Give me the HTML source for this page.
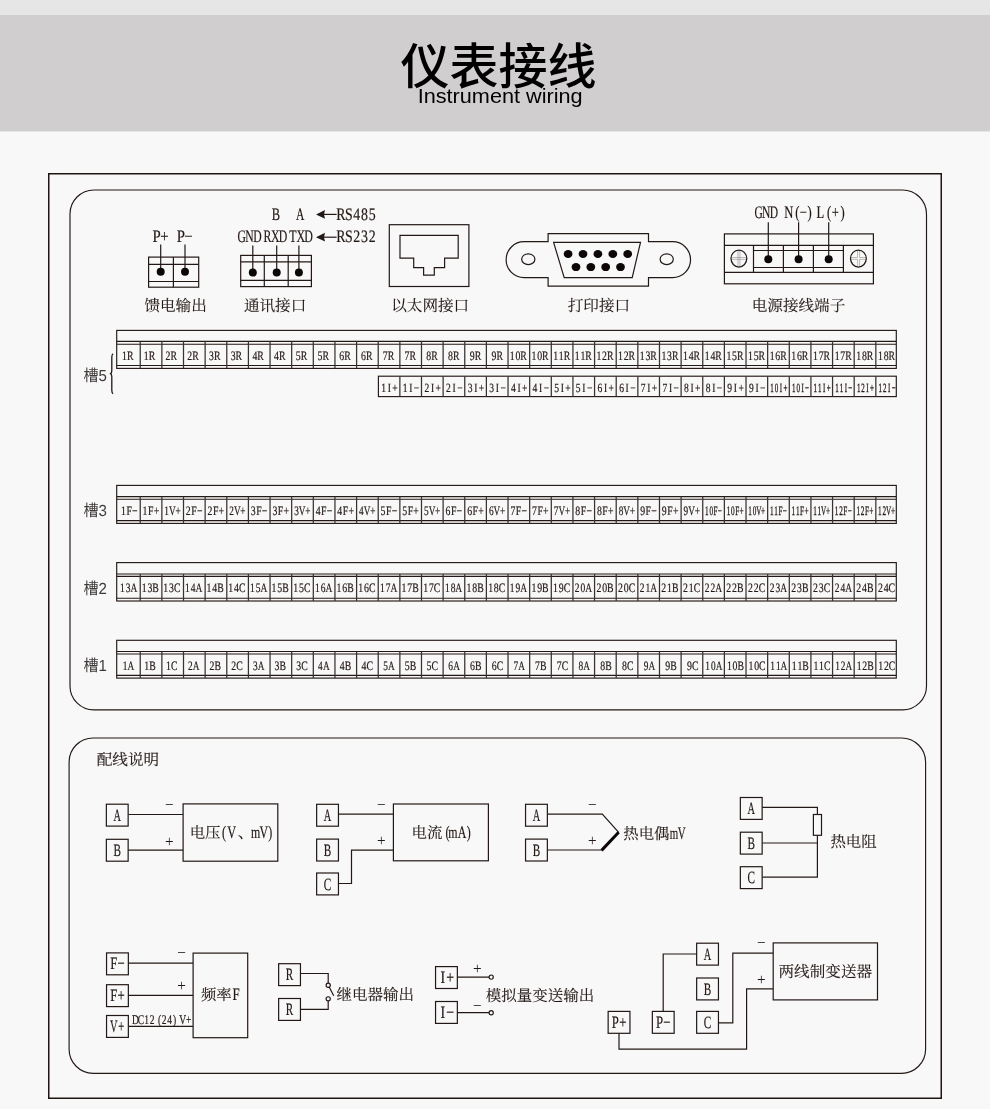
<!DOCTYPE html>
<html lang="zh-CN">
<head>
<meta charset="utf-8">
<meta name="viewport" content="width=990">
<title>仪表接线 Instrument wiring</title>
<style>
html,body{margin:0;padding:0;background:#f8f8f8;}
body{width:990px;height:1109px;overflow:hidden;position:relative;font-family:"Liberation Sans","Noto Sans CJK SC",sans-serif;color:#000;}
.page{position:relative;width:990px;height:1109px;background:#f8f8f8;overflow:hidden;}
.topbar{position:absolute;left:0;top:0;width:990px;height:15px;background:#e6e6e6;}
.banner{position:absolute;left:0;top:15px;width:990px;height:116px;background:#d0cece;border-bottom:1px solid #e6e5e5;will-change:transform;}
.banner h1{position:absolute;left:0;top:28.0px;width:990px;margin:0;padding:0;text-align:center;font-size:49px;line-height:49px;font-weight:500;letter-spacing:0;white-space:nowrap;text-indent:7.2px;}
.banner p{position:absolute;left:0;top:71.0px;width:990px;margin:0;padding:0;text-align:center;font-size:20px;line-height:20px;font-weight:400;white-space:nowrap;}
.banner p span{display:inline-block;transform:scaleX(1.083);transform-origin:50% 50%;margin-left:11px;}
.diagram{position:absolute;left:0;top:0;width:990px;height:1109px;}
.diagram svg{display:block;will-change:transform;}
.diagram text{white-space:pre;text-rendering:geometricPrecision;}
</style>
</head>
<body>
<div class="page">
<div class="topbar"></div>
<header class="banner">
<h1>仪表接线</h1>
<p><span>Instrument wiring</span></p>
</header>
<main class="diagram">
<svg width="990" height="1109" viewBox="0 0 990 1109">
<g id="frames">
<rect x="48.75" y="173.75" width="892.5" height="924.5" fill="none" stroke="#1e1412" stroke-width="1.5"/>
<rect x="70" y="190" width="856.5" height="519.9" rx="24" fill="none" stroke="#231815" stroke-width="1.15"/>
<rect x="69.1" y="738" width="856.5" height="335.3" rx="24" fill="none" stroke="#231815" stroke-width="1.15"/>
</g>
<g id="port-feed-output">
<text transform="scale(0.845,1)" x="185.38 194.5" y="241.7" font-family="'Liberation Serif','Noto Serif CJK SC',serif" font-size="17.5" fill="#231815" stroke="#231815" stroke-width="0.2" text-anchor="middle">P+</text>
<text transform="scale(0.845,1)" x="213.91 223.02" y="241.7" font-family="'Liberation Serif','Noto Serif CJK SC',serif" font-size="17.5" fill="#231815" stroke="#231815" stroke-width="0.2" text-anchor="middle">P−</text>
<rect x="148.6" y="257.1" width="50.1" height="30.1" fill="none" stroke="#231815" stroke-width="1.2"/>
<line x1="148.6" y1="264.3" x2="198.7" y2="264.3" stroke="#231815" stroke-width="1.2"/>
<line x1="148.6" y1="281.5" x2="198.7" y2="281.5" stroke="#231815" stroke-width="1.2"/>
<line x1="173.4" y1="257.1" x2="173.4" y2="287.2" stroke="#231815" stroke-width="1.2"/>
<line x1="160.7" y1="244.5" x2="160.7" y2="271.8" stroke="#231815" stroke-width="1.2"/>
<circle cx="160.7" cy="271.8" r="4" fill="#0c0706" stroke="none" stroke-width="1.0"/>
<line x1="185" y1="244.5" x2="185" y2="271.8" stroke="#231815" stroke-width="1.2"/>
<circle cx="185" cy="271.8" r="4" fill="#0c0706" stroke="none" stroke-width="1.0"/>
<text x="175.6" y="311.3" font-family="'Liberation Serif','Noto Serif CJK SC',serif" font-size="15.6" font-weight="400" fill="#231815" stroke="#231815" stroke-width="0.12" text-anchor="middle">馈电输出</text>
</g>
<g id="port-comm">
<text transform="scale(0.712,1)" x="387.43" y="219.6" font-family="'Liberation Serif','Noto Serif CJK SC',serif" font-size="17.5" fill="#231815" stroke="#231815" stroke-width="0.2" text-anchor="middle">B</text>
<text transform="scale(0.658,1)" x="456.16" y="219.6" font-family="'Liberation Serif','Noto Serif CJK SC',serif" font-size="17.5" fill="#231815" stroke="#231815" stroke-width="0.2" text-anchor="middle">A</text>
<text transform="scale(0.667,1)" x="362.52 374.21 385.91" y="241.6" font-family="'Liberation Serif','Noto Serif CJK SC',serif" font-size="17.5" fill="#231815" stroke="#231815" stroke-width="0.2" text-anchor="middle">GND</text>
<text transform="scale(0.674,1)" x="396.88 408.46 420.03" y="241.6" font-family="'Liberation Serif','Noto Serif CJK SC',serif" font-size="17.5" fill="#231815" stroke="#231815" stroke-width="0.2" text-anchor="middle">RXD</text>
<text transform="scale(0.682,1)" x="429.47 440.91 452.35" y="241.6" font-family="'Liberation Serif','Noto Serif CJK SC',serif" font-size="17.5" fill="#231815" stroke="#231815" stroke-width="0.2" text-anchor="middle">TXD</text>
<rect x="240.7" y="255.4" width="70.7" height="31.2" fill="none" stroke="#231815" stroke-width="1.2"/>
<line x1="240.7" y1="261.9" x2="311.4" y2="261.9" stroke="#231815" stroke-width="1.2"/>
<line x1="240.7" y1="280.4" x2="311.4" y2="280.4" stroke="#231815" stroke-width="1.2"/>
<line x1="264.3" y1="255.4" x2="264.3" y2="286.6" stroke="#231815" stroke-width="1.2"/>
<line x1="288.2" y1="255.4" x2="288.2" y2="286.6" stroke="#231815" stroke-width="1.2"/>
<line x1="252.8" y1="245.5" x2="252.8" y2="272.6" stroke="#231815" stroke-width="1.2"/>
<circle cx="252.8" cy="272.6" r="4" fill="#0c0706" stroke="none" stroke-width="1.0"/>
<line x1="276.7" y1="245.5" x2="276.7" y2="272.6" stroke="#231815" stroke-width="1.2"/>
<circle cx="276.7" cy="272.6" r="4" fill="#0c0706" stroke="none" stroke-width="1.0"/>
<line x1="298.9" y1="245.5" x2="298.9" y2="272.6" stroke="#231815" stroke-width="1.2"/>
<circle cx="298.9" cy="272.6" r="4" fill="#0c0706" stroke="none" stroke-width="1.0"/>
<text x="275.1" y="311.3" font-family="'Liberation Serif','Noto Serif CJK SC',serif" font-size="15.6" font-weight="400" fill="#231815" stroke="#231815" stroke-width="0.12" text-anchor="middle">通讯接口</text>
<line x1="322" y1="214.4" x2="336.6" y2="214.4" stroke="#231815" stroke-width="1.2"/>
<polygon points="316.0,214.4 325.0,210 324.0,214.4 325.0,218.8" fill="#231815"/>
<line x1="322" y1="237.2" x2="336.6" y2="237.2" stroke="#231815" stroke-width="1.2"/>
<polygon points="316.0,237.2 325.0,232.8 324.0,237.2 325.0,241.6" fill="#231815"/>
<text transform="scale(0.792,1)" x="430.46 440.37 450.28 460.2 470.11" y="219.6" font-family="'Liberation Serif','Noto Serif CJK SC',serif" font-size="17.5" fill="#231815" stroke="#231815" stroke-width="0.2" text-anchor="middle">RS485</text>
<text transform="scale(0.792,1)" x="430.46 440.37 450.28 460.2 470.11" y="241.6" font-family="'Liberation Serif','Noto Serif CJK SC',serif" font-size="17.5" fill="#231815" stroke="#231815" stroke-width="0.2" text-anchor="middle">RS232</text>
</g>
<g id="port-ethernet">
<rect x="389.3" y="224.7" width="79.6" height="61.8" fill="none" stroke="#231815" stroke-width="1.2"/>
<path d="M400,235.4H458.2V258.2H444.6V267.7H434.3V275.2H423.6V267.7H413.7V258.2H400Z" fill="none" stroke="#231815" stroke-width="1.2"/>
<text x="430.2" y="311.3" font-family="'Liberation Serif','Noto Serif CJK SC',serif" font-size="15.6" font-weight="400" fill="#231815" stroke="#231815" stroke-width="0.12" text-anchor="middle">以太网接口</text>
</g>
<g id="port-print">
<path d="M548.1,241.7V233.6H648.5V241.7H672.6A17.95,17.95 0 0 1 672.6,277.6H648.5V286.1H548.1V277.6H524.1A17.95,17.95 0 0 1 524.1,241.7Z" fill="none" stroke="#231815" stroke-width="1.2"/>
<path d="M553.6,242.3H640.5L632.2,277.6H564.2Z" fill="none" stroke="#231815" stroke-width="1.2"/>
<ellipse cx="528.3" cy="259.2" rx="6.6" ry="5.4" fill="none" stroke="#231815" stroke-width="1.2"/>
<ellipse cx="666.7" cy="259.2" rx="6.6" ry="5.4" fill="none" stroke="#231815" stroke-width="1.2"/>
<ellipse cx="568.1" cy="254" rx="4.4" ry="4" fill="#0c0706" stroke="none" stroke-width="1.0"/>
<ellipse cx="583" cy="254" rx="4.4" ry="4" fill="#0c0706" stroke="none" stroke-width="1.0"/>
<ellipse cx="597.9" cy="254" rx="4.4" ry="4" fill="#0c0706" stroke="none" stroke-width="1.0"/>
<ellipse cx="612.8" cy="254" rx="4.4" ry="4" fill="#0c0706" stroke="none" stroke-width="1.0"/>
<ellipse cx="627.7" cy="254" rx="4.4" ry="4" fill="#0c0706" stroke="none" stroke-width="1.0"/>
<ellipse cx="576" cy="267.1" rx="4.4" ry="4" fill="#0c0706" stroke="none" stroke-width="1.0"/>
<ellipse cx="590.8" cy="267.1" rx="4.4" ry="4" fill="#0c0706" stroke="none" stroke-width="1.0"/>
<ellipse cx="605.7" cy="267.1" rx="4.4" ry="4" fill="#0c0706" stroke="none" stroke-width="1.0"/>
<ellipse cx="620.5" cy="267.1" rx="4.4" ry="4" fill="#0c0706" stroke="none" stroke-width="1.0"/>
<text x="598.9" y="311.3" font-family="'Liberation Serif','Noto Serif CJK SC',serif" font-size="15.6" font-weight="400" fill="#231815" stroke="#231815" stroke-width="0.12" text-anchor="middle">打印接口</text>
</g>
<g id="port-power">
<text transform="scale(0.658,1)" x="1152.81 1164.51 1176.22" y="217.9" font-family="'Liberation Serif','Noto Serif CJK SC',serif" font-size="17.5" fill="#231815" stroke="#231815" stroke-width="0.2" text-anchor="middle">GND</text>
<text transform="scale(0.72,1)" x="1095.42 1107.36 1115.69 1124.58" y="217.9" font-family="'Liberation Serif','Noto Serif CJK SC',serif" font-size="17.5" fill="#231815" stroke="#231815" stroke-width="0.2" text-anchor="middle">N(−)</text>
<text transform="scale(0.72,1)" x="1139.44 1151.53 1160.14 1170.28" y="217.9" font-family="'Liberation Serif','Noto Serif CJK SC',serif" font-size="17.5" fill="#231815" stroke="#231815" stroke-width="0.2" text-anchor="middle">L(+)</text>
<rect x="724.4" y="233.9" width="149" height="49.9" fill="none" stroke="#231815" stroke-width="1.2"/>
<line x1="724.4" y1="245.3" x2="873.4" y2="245.3" stroke="#231815" stroke-width="1.2"/>
<line x1="724.4" y1="272.3" x2="873.4" y2="272.3" stroke="#231815" stroke-width="1.2"/>
<line x1="753.5" y1="245.3" x2="753.5" y2="272.3" stroke="#231815" stroke-width="1.2"/>
<line x1="783.4" y1="245.3" x2="783.4" y2="272.3" stroke="#231815" stroke-width="1.2"/>
<line x1="813.4" y1="245.3" x2="813.4" y2="272.3" stroke="#231815" stroke-width="1.2"/>
<line x1="843.4" y1="245.3" x2="843.4" y2="272.3" stroke="#231815" stroke-width="1.2"/>
<line x1="753.5" y1="250.5" x2="843.4" y2="250.5" stroke="#231815" stroke-width="1.2"/>
<line x1="753.5" y1="267.5" x2="843.4" y2="267.5" stroke="#231815" stroke-width="1.2"/>
<line x1="768.3" y1="222.3" x2="768.3" y2="259.2" stroke="#231815" stroke-width="1.2"/>
<circle cx="768.3" cy="259.2" r="4" fill="#0c0706" stroke="none" stroke-width="1.0"/>
<line x1="798.6" y1="222.3" x2="798.6" y2="259.2" stroke="#231815" stroke-width="1.2"/>
<circle cx="798.6" cy="259.2" r="4" fill="#0c0706" stroke="none" stroke-width="1.0"/>
<line x1="828.7" y1="222.3" x2="828.7" y2="259.2" stroke="#231815" stroke-width="1.2"/>
<circle cx="828.7" cy="259.2" r="4" fill="#0c0706" stroke="none" stroke-width="1.0"/>
<rect x="737.3" y="251.0" width="3.3" height="15.4" fill="#c9c8c8"/>
<rect x="738.3" y="251.0" width="1.3" height="15.4" fill="#dcdcdc"/>
<line x1="731.4" y1="257.5" x2="746.4" y2="257.5" stroke="#8b8685" stroke-width="0.55"/>
<line x1="731.4" y1="259.35" x2="746.4" y2="259.35" stroke="#8b8685" stroke-width="0.55"/>
<ellipse cx="738.9" cy="258.6" rx="7.9" ry="8.4" fill="none" stroke="#231815" stroke-width="1.25"/>
<path d="M857.6,250.6V257.5H851.0M866.0,257.5H859.6V250.6M859.6,266.6V259.35H866.0M851.0,259.35H857.6V266.6" fill="none" stroke="#8b8685" stroke-width="0.55"/>
<ellipse cx="858.4" cy="258.6" rx="7.9" ry="8.4" fill="none" stroke="#231815" stroke-width="1.25"/>
<text x="798.5" y="311.3" font-family="'Liberation Serif','Noto Serif CJK SC',serif" font-size="15.6" font-weight="400" fill="#231815" stroke="#231815" stroke-width="0.12" text-anchor="middle">电源接线端子</text>
</g>
<g id="slot5-relay">
<rect x="116.7" y="330.4" width="779.6" height="38" fill="none" stroke="#231815" stroke-width="1.15"/>
<line x1="116.7" y1="341.4" x2="896.3" y2="341.4" stroke="#231815" stroke-width="1.15"/>
<line x1="116.7" y1="344.2" x2="896.3" y2="344.2" stroke="#231815" stroke-width="1.15"/>
<line x1="116.7" y1="365.5" x2="896.3" y2="365.5" stroke="#231815" stroke-width="1.15"/>
<line x1="140.23" y1="341.4" x2="140.23" y2="368.4" stroke="#3b312e" stroke-width="1.25"/>
<line x1="161.87" y1="341.4" x2="161.87" y2="368.4" stroke="#3b312e" stroke-width="1.25"/>
<line x1="183.5" y1="341.4" x2="183.5" y2="368.4" stroke="#3b312e" stroke-width="1.25"/>
<line x1="205.14" y1="341.4" x2="205.14" y2="368.4" stroke="#3b312e" stroke-width="1.25"/>
<line x1="226.78" y1="341.4" x2="226.78" y2="368.4" stroke="#3b312e" stroke-width="1.25"/>
<line x1="248.41" y1="341.4" x2="248.41" y2="368.4" stroke="#3b312e" stroke-width="1.25"/>
<line x1="270.05" y1="341.4" x2="270.05" y2="368.4" stroke="#3b312e" stroke-width="1.25"/>
<line x1="291.68" y1="341.4" x2="291.68" y2="368.4" stroke="#3b312e" stroke-width="1.25"/>
<line x1="313.31" y1="341.4" x2="313.31" y2="368.4" stroke="#3b312e" stroke-width="1.25"/>
<line x1="334.95" y1="341.4" x2="334.95" y2="368.4" stroke="#3b312e" stroke-width="1.25"/>
<line x1="356.59" y1="341.4" x2="356.59" y2="368.4" stroke="#3b312e" stroke-width="1.25"/>
<line x1="378.22" y1="341.4" x2="378.22" y2="368.4" stroke="#3b312e" stroke-width="1.25"/>
<line x1="399.86" y1="341.4" x2="399.86" y2="368.4" stroke="#3b312e" stroke-width="1.25"/>
<line x1="421.49" y1="341.4" x2="421.49" y2="368.4" stroke="#3b312e" stroke-width="1.25"/>
<line x1="443.12" y1="341.4" x2="443.12" y2="368.4" stroke="#3b312e" stroke-width="1.25"/>
<line x1="464.76" y1="341.4" x2="464.76" y2="368.4" stroke="#3b312e" stroke-width="1.25"/>
<line x1="486.39" y1="341.4" x2="486.39" y2="368.4" stroke="#3b312e" stroke-width="1.25"/>
<line x1="508.03" y1="341.4" x2="508.03" y2="368.4" stroke="#3b312e" stroke-width="1.25"/>
<line x1="529.67" y1="341.4" x2="529.67" y2="368.4" stroke="#3b312e" stroke-width="1.25"/>
<line x1="551.3" y1="341.4" x2="551.3" y2="368.4" stroke="#3b312e" stroke-width="1.25"/>
<line x1="572.94" y1="341.4" x2="572.94" y2="368.4" stroke="#3b312e" stroke-width="1.25"/>
<line x1="594.57" y1="341.4" x2="594.57" y2="368.4" stroke="#3b312e" stroke-width="1.25"/>
<line x1="616.21" y1="341.4" x2="616.21" y2="368.4" stroke="#3b312e" stroke-width="1.25"/>
<line x1="637.84" y1="341.4" x2="637.84" y2="368.4" stroke="#3b312e" stroke-width="1.25"/>
<line x1="659.48" y1="341.4" x2="659.48" y2="368.4" stroke="#3b312e" stroke-width="1.25"/>
<line x1="681.11" y1="341.4" x2="681.11" y2="368.4" stroke="#3b312e" stroke-width="1.25"/>
<line x1="702.75" y1="341.4" x2="702.75" y2="368.4" stroke="#3b312e" stroke-width="1.25"/>
<line x1="724.38" y1="341.4" x2="724.38" y2="368.4" stroke="#3b312e" stroke-width="1.25"/>
<line x1="746.02" y1="341.4" x2="746.02" y2="368.4" stroke="#3b312e" stroke-width="1.25"/>
<line x1="767.65" y1="341.4" x2="767.65" y2="368.4" stroke="#3b312e" stroke-width="1.25"/>
<line x1="789.29" y1="341.4" x2="789.29" y2="368.4" stroke="#3b312e" stroke-width="1.25"/>
<line x1="810.92" y1="341.4" x2="810.92" y2="368.4" stroke="#3b312e" stroke-width="1.25"/>
<line x1="832.56" y1="341.4" x2="832.56" y2="368.4" stroke="#3b312e" stroke-width="1.25"/>
<line x1="854.19" y1="341.4" x2="854.19" y2="368.4" stroke="#3b312e" stroke-width="1.25"/>
<line x1="875.83" y1="341.4" x2="875.83" y2="368.4" stroke="#3b312e" stroke-width="1.25"/>
<text transform="scale(0.76,1)" x="163.68 171.32" y="360.1" font-family="'Liberation Serif','Noto Serif CJK SC',serif" font-size="12.9" fill="#231815" stroke="#231815" stroke-width="0.2" text-anchor="middle">1R</text>
<text transform="scale(0.76,1)" x="192.29 199.92" y="360.1" font-family="'Liberation Serif','Noto Serif CJK SC',serif" font-size="12.9" fill="#231815" stroke="#231815" stroke-width="0.2" text-anchor="middle">1R</text>
<text transform="scale(0.76,1)" x="220.89 228.53" y="360.1" font-family="'Liberation Serif','Noto Serif CJK SC',serif" font-size="12.9" fill="#231815" stroke="#231815" stroke-width="0.2" text-anchor="middle">2R</text>
<text transform="scale(0.76,1)" x="249.5 257.13" y="360.1" font-family="'Liberation Serif','Noto Serif CJK SC',serif" font-size="12.9" fill="#231815" stroke="#231815" stroke-width="0.2" text-anchor="middle">2R</text>
<text transform="scale(0.76,1)" x="278.11 285.74" y="360.1" font-family="'Liberation Serif','Noto Serif CJK SC',serif" font-size="12.9" fill="#231815" stroke="#231815" stroke-width="0.2" text-anchor="middle">3R</text>
<text transform="scale(0.76,1)" x="306.71 314.34" y="360.1" font-family="'Liberation Serif','Noto Serif CJK SC',serif" font-size="12.9" fill="#231815" stroke="#231815" stroke-width="0.2" text-anchor="middle">3R</text>
<text transform="scale(0.76,1)" x="335.32 342.95" y="360.1" font-family="'Liberation Serif','Noto Serif CJK SC',serif" font-size="12.9" fill="#231815" stroke="#231815" stroke-width="0.2" text-anchor="middle">4R</text>
<text transform="scale(0.76,1)" x="363.92 371.55" y="360.1" font-family="'Liberation Serif','Noto Serif CJK SC',serif" font-size="12.9" fill="#231815" stroke="#231815" stroke-width="0.2" text-anchor="middle">4R</text>
<text transform="scale(0.76,1)" x="392.53 400.16" y="360.1" font-family="'Liberation Serif','Noto Serif CJK SC',serif" font-size="12.9" fill="#231815" stroke="#231815" stroke-width="0.2" text-anchor="middle">5R</text>
<text transform="scale(0.76,1)" x="421.13 428.76" y="360.1" font-family="'Liberation Serif','Noto Serif CJK SC',serif" font-size="12.9" fill="#231815" stroke="#231815" stroke-width="0.2" text-anchor="middle">5R</text>
<text transform="scale(0.76,1)" x="449.74 457.37" y="360.1" font-family="'Liberation Serif','Noto Serif CJK SC',serif" font-size="12.9" fill="#231815" stroke="#231815" stroke-width="0.2" text-anchor="middle">6R</text>
<text transform="scale(0.76,1)" x="478.34 485.97" y="360.1" font-family="'Liberation Serif','Noto Serif CJK SC',serif" font-size="12.9" fill="#231815" stroke="#231815" stroke-width="0.2" text-anchor="middle">6R</text>
<text transform="scale(0.76,1)" x="506.95 514.58" y="360.1" font-family="'Liberation Serif','Noto Serif CJK SC',serif" font-size="12.9" fill="#231815" stroke="#231815" stroke-width="0.2" text-anchor="middle">7R</text>
<text transform="scale(0.76,1)" x="535.55 543.18" y="360.1" font-family="'Liberation Serif','Noto Serif CJK SC',serif" font-size="12.9" fill="#231815" stroke="#231815" stroke-width="0.2" text-anchor="middle">7R</text>
<text transform="scale(0.76,1)" x="564.16 571.79" y="360.1" font-family="'Liberation Serif','Noto Serif CJK SC',serif" font-size="12.9" fill="#231815" stroke="#231815" stroke-width="0.2" text-anchor="middle">8R</text>
<text transform="scale(0.76,1)" x="592.76 600.39" y="360.1" font-family="'Liberation Serif','Noto Serif CJK SC',serif" font-size="12.9" fill="#231815" stroke="#231815" stroke-width="0.2" text-anchor="middle">8R</text>
<text transform="scale(0.76,1)" x="621.37 629" y="360.1" font-family="'Liberation Serif','Noto Serif CJK SC',serif" font-size="12.9" fill="#231815" stroke="#231815" stroke-width="0.2" text-anchor="middle">9R</text>
<text transform="scale(0.76,1)" x="649.97 657.61" y="360.1" font-family="'Liberation Serif','Noto Serif CJK SC',serif" font-size="12.9" fill="#231815" stroke="#231815" stroke-width="0.2" text-anchor="middle">9R</text>
<text transform="scale(0.76,1)" x="674.08 681.51 688.95" y="360.1" font-family="'Liberation Serif','Noto Serif CJK SC',serif" font-size="12.9" fill="#231815" stroke="#231815" stroke-width="0.2" text-anchor="middle">10R</text>
<text transform="scale(0.76,1)" x="702.57 710.01 717.44" y="360.1" font-family="'Liberation Serif','Noto Serif CJK SC',serif" font-size="12.9" fill="#231815" stroke="#231815" stroke-width="0.2" text-anchor="middle">10R</text>
<text transform="scale(0.76,1)" x="731.07 738.5 745.94" y="360.1" font-family="'Liberation Serif','Noto Serif CJK SC',serif" font-size="12.9" fill="#231815" stroke="#231815" stroke-width="0.2" text-anchor="middle">11R</text>
<text transform="scale(0.76,1)" x="759.56 767 774.43" y="360.1" font-family="'Liberation Serif','Noto Serif CJK SC',serif" font-size="12.9" fill="#231815" stroke="#231815" stroke-width="0.2" text-anchor="middle">11R</text>
<text transform="scale(0.76,1)" x="788.06 795.49 802.93" y="360.1" font-family="'Liberation Serif','Noto Serif CJK SC',serif" font-size="12.9" fill="#231815" stroke="#231815" stroke-width="0.2" text-anchor="middle">12R</text>
<text transform="scale(0.76,1)" x="816.55 823.99 831.42" y="360.1" font-family="'Liberation Serif','Noto Serif CJK SC',serif" font-size="12.9" fill="#231815" stroke="#231815" stroke-width="0.2" text-anchor="middle">12R</text>
<text transform="scale(0.76,1)" x="845.05 852.48 859.92" y="360.1" font-family="'Liberation Serif','Noto Serif CJK SC',serif" font-size="12.9" fill="#231815" stroke="#231815" stroke-width="0.2" text-anchor="middle">13R</text>
<text transform="scale(0.76,1)" x="873.54 880.98 888.41" y="360.1" font-family="'Liberation Serif','Noto Serif CJK SC',serif" font-size="12.9" fill="#231815" stroke="#231815" stroke-width="0.2" text-anchor="middle">13R</text>
<text transform="scale(0.76,1)" x="902.04 909.47 916.91" y="360.1" font-family="'Liberation Serif','Noto Serif CJK SC',serif" font-size="12.9" fill="#231815" stroke="#231815" stroke-width="0.2" text-anchor="middle">14R</text>
<text transform="scale(0.76,1)" x="930.53 937.97 945.4" y="360.1" font-family="'Liberation Serif','Noto Serif CJK SC',serif" font-size="12.9" fill="#231815" stroke="#231815" stroke-width="0.2" text-anchor="middle">14R</text>
<text transform="scale(0.76,1)" x="959.03 966.46 973.89" y="360.1" font-family="'Liberation Serif','Noto Serif CJK SC',serif" font-size="12.9" fill="#231815" stroke="#231815" stroke-width="0.2" text-anchor="middle">15R</text>
<text transform="scale(0.76,1)" x="987.52 994.96 1002.39" y="360.1" font-family="'Liberation Serif','Noto Serif CJK SC',serif" font-size="12.9" fill="#231815" stroke="#231815" stroke-width="0.2" text-anchor="middle">15R</text>
<text transform="scale(0.76,1)" x="1016.02 1023.45 1030.88" y="360.1" font-family="'Liberation Serif','Noto Serif CJK SC',serif" font-size="12.9" fill="#231815" stroke="#231815" stroke-width="0.2" text-anchor="middle">16R</text>
<text transform="scale(0.76,1)" x="1044.51 1051.94 1059.38" y="360.1" font-family="'Liberation Serif','Noto Serif CJK SC',serif" font-size="12.9" fill="#231815" stroke="#231815" stroke-width="0.2" text-anchor="middle">16R</text>
<text transform="scale(0.76,1)" x="1073.01 1080.44 1087.87" y="360.1" font-family="'Liberation Serif','Noto Serif CJK SC',serif" font-size="12.9" fill="#231815" stroke="#231815" stroke-width="0.2" text-anchor="middle">17R</text>
<text transform="scale(0.76,1)" x="1101.5 1108.93 1116.37" y="360.1" font-family="'Liberation Serif','Noto Serif CJK SC',serif" font-size="12.9" fill="#231815" stroke="#231815" stroke-width="0.2" text-anchor="middle">17R</text>
<text transform="scale(0.76,1)" x="1129.99 1137.43 1144.86" y="360.1" font-family="'Liberation Serif','Noto Serif CJK SC',serif" font-size="12.9" fill="#231815" stroke="#231815" stroke-width="0.2" text-anchor="middle">18R</text>
<text transform="scale(0.76,1)" x="1158.49 1165.92 1173.36" y="360.1" font-family="'Liberation Serif','Noto Serif CJK SC',serif" font-size="12.9" fill="#231815" stroke="#231815" stroke-width="0.2" text-anchor="middle">18R</text>
</g>
<g id="slot5-analog">
<rect x="378.4" y="376.2" width="517.9" height="20.4" fill="none" stroke="#231815" stroke-width="1.15"/>
<line x1="399.86" y1="376.2" x2="399.86" y2="396.6" stroke="#3b312e" stroke-width="1.25"/>
<line x1="421.49" y1="376.2" x2="421.49" y2="396.6" stroke="#3b312e" stroke-width="1.25"/>
<line x1="443.12" y1="376.2" x2="443.12" y2="396.6" stroke="#3b312e" stroke-width="1.25"/>
<line x1="464.76" y1="376.2" x2="464.76" y2="396.6" stroke="#3b312e" stroke-width="1.25"/>
<line x1="486.39" y1="376.2" x2="486.39" y2="396.6" stroke="#3b312e" stroke-width="1.25"/>
<line x1="508.03" y1="376.2" x2="508.03" y2="396.6" stroke="#3b312e" stroke-width="1.25"/>
<line x1="529.67" y1="376.2" x2="529.67" y2="396.6" stroke="#3b312e" stroke-width="1.25"/>
<line x1="551.3" y1="376.2" x2="551.3" y2="396.6" stroke="#3b312e" stroke-width="1.25"/>
<line x1="572.94" y1="376.2" x2="572.94" y2="396.6" stroke="#3b312e" stroke-width="1.25"/>
<line x1="594.57" y1="376.2" x2="594.57" y2="396.6" stroke="#3b312e" stroke-width="1.25"/>
<line x1="616.21" y1="376.2" x2="616.21" y2="396.6" stroke="#3b312e" stroke-width="1.25"/>
<line x1="637.84" y1="376.2" x2="637.84" y2="396.6" stroke="#3b312e" stroke-width="1.25"/>
<line x1="659.48" y1="376.2" x2="659.48" y2="396.6" stroke="#3b312e" stroke-width="1.25"/>
<line x1="681.11" y1="376.2" x2="681.11" y2="396.6" stroke="#3b312e" stroke-width="1.25"/>
<line x1="702.75" y1="376.2" x2="702.75" y2="396.6" stroke="#3b312e" stroke-width="1.25"/>
<line x1="724.38" y1="376.2" x2="724.38" y2="396.6" stroke="#3b312e" stroke-width="1.25"/>
<line x1="746.02" y1="376.2" x2="746.02" y2="396.6" stroke="#3b312e" stroke-width="1.25"/>
<line x1="767.65" y1="376.2" x2="767.65" y2="396.6" stroke="#3b312e" stroke-width="1.25"/>
<line x1="789.29" y1="376.2" x2="789.29" y2="396.6" stroke="#3b312e" stroke-width="1.25"/>
<line x1="810.92" y1="376.2" x2="810.92" y2="396.6" stroke="#3b312e" stroke-width="1.25"/>
<line x1="832.56" y1="376.2" x2="832.56" y2="396.6" stroke="#3b312e" stroke-width="1.25"/>
<line x1="854.19" y1="376.2" x2="854.19" y2="396.6" stroke="#3b312e" stroke-width="1.25"/>
<line x1="875.83" y1="376.2" x2="875.83" y2="396.6" stroke="#3b312e" stroke-width="1.25"/>
<text transform="scale(0.76,1)" x="504.65 512.15 519.65" y="391.7" font-family="'Liberation Serif','Noto Serif CJK SC',serif" font-size="12.6" fill="#231815" stroke="#231815" stroke-width="0.2" text-anchor="middle">1I+</text>
<text transform="scale(0.76,1)" x="533.12 540.62 548.12" y="391.7" font-family="'Liberation Serif','Noto Serif CJK SC',serif" font-size="12.6" fill="#231815" stroke="#231815" stroke-width="0.2" text-anchor="middle">1I−</text>
<text transform="scale(0.76,1)" x="561.59 569.09 576.59" y="391.7" font-family="'Liberation Serif','Noto Serif CJK SC',serif" font-size="12.6" fill="#231815" stroke="#231815" stroke-width="0.2" text-anchor="middle">2I+</text>
<text transform="scale(0.76,1)" x="590.06 597.56 605.06" y="391.7" font-family="'Liberation Serif','Noto Serif CJK SC',serif" font-size="12.6" fill="#231815" stroke="#231815" stroke-width="0.2" text-anchor="middle">2I−</text>
<text transform="scale(0.76,1)" x="618.52 626.02 633.52" y="391.7" font-family="'Liberation Serif','Noto Serif CJK SC',serif" font-size="12.6" fill="#231815" stroke="#231815" stroke-width="0.2" text-anchor="middle">3I+</text>
<text transform="scale(0.76,1)" x="646.99 654.49 661.99" y="391.7" font-family="'Liberation Serif','Noto Serif CJK SC',serif" font-size="12.6" fill="#231815" stroke="#231815" stroke-width="0.2" text-anchor="middle">3I−</text>
<text transform="scale(0.76,1)" x="675.46 682.96 690.46" y="391.7" font-family="'Liberation Serif','Noto Serif CJK SC',serif" font-size="12.6" fill="#231815" stroke="#231815" stroke-width="0.2" text-anchor="middle">4I+</text>
<text transform="scale(0.76,1)" x="703.92 711.42 718.92" y="391.7" font-family="'Liberation Serif','Noto Serif CJK SC',serif" font-size="12.6" fill="#231815" stroke="#231815" stroke-width="0.2" text-anchor="middle">4I−</text>
<text transform="scale(0.76,1)" x="732.39 739.89 747.39" y="391.7" font-family="'Liberation Serif','Noto Serif CJK SC',serif" font-size="12.6" fill="#231815" stroke="#231815" stroke-width="0.2" text-anchor="middle">5I+</text>
<text transform="scale(0.76,1)" x="760.86 768.36 775.86" y="391.7" font-family="'Liberation Serif','Noto Serif CJK SC',serif" font-size="12.6" fill="#231815" stroke="#231815" stroke-width="0.2" text-anchor="middle">5I−</text>
<text transform="scale(0.76,1)" x="789.33 796.83 804.33" y="391.7" font-family="'Liberation Serif','Noto Serif CJK SC',serif" font-size="12.6" fill="#231815" stroke="#231815" stroke-width="0.2" text-anchor="middle">6I+</text>
<text transform="scale(0.76,1)" x="817.79 825.29 832.79" y="391.7" font-family="'Liberation Serif','Noto Serif CJK SC',serif" font-size="12.6" fill="#231815" stroke="#231815" stroke-width="0.2" text-anchor="middle">6I−</text>
<text transform="scale(0.76,1)" x="846.26 853.76 861.26" y="391.7" font-family="'Liberation Serif','Noto Serif CJK SC',serif" font-size="12.6" fill="#231815" stroke="#231815" stroke-width="0.2" text-anchor="middle">7I+</text>
<text transform="scale(0.76,1)" x="874.73 882.23 889.73" y="391.7" font-family="'Liberation Serif','Noto Serif CJK SC',serif" font-size="12.6" fill="#231815" stroke="#231815" stroke-width="0.2" text-anchor="middle">7I−</text>
<text transform="scale(0.76,1)" x="903.19 910.69 918.19" y="391.7" font-family="'Liberation Serif','Noto Serif CJK SC',serif" font-size="12.6" fill="#231815" stroke="#231815" stroke-width="0.2" text-anchor="middle">8I+</text>
<text transform="scale(0.76,1)" x="931.66 939.16 946.66" y="391.7" font-family="'Liberation Serif','Noto Serif CJK SC',serif" font-size="12.6" fill="#231815" stroke="#231815" stroke-width="0.2" text-anchor="middle">8I−</text>
<text transform="scale(0.76,1)" x="960.13 967.63 975.13" y="391.7" font-family="'Liberation Serif','Noto Serif CJK SC',serif" font-size="12.6" fill="#231815" stroke="#231815" stroke-width="0.2" text-anchor="middle">9I+</text>
<text transform="scale(0.76,1)" x="988.6 996.1 1003.6" y="391.7" font-family="'Liberation Serif','Noto Serif CJK SC',serif" font-size="12.6" fill="#231815" stroke="#231815" stroke-width="0.2" text-anchor="middle">9I−</text>
<text transform="scale(0.56,1)" x="1378.74 1386.68 1394.63 1402.58" y="391.7" font-family="'Liberation Serif','Noto Serif CJK SC',serif" font-size="12.5" fill="#231815" stroke="#231815" stroke-width="0.32" text-anchor="middle">10I+</text>
<text transform="scale(0.56,1)" x="1417.37 1425.32 1433.26 1441.21" y="391.7" font-family="'Liberation Serif','Noto Serif CJK SC',serif" font-size="12.5" fill="#231815" stroke="#231815" stroke-width="0.32" text-anchor="middle">10I−</text>
<text transform="scale(0.56,1)" x="1456 1463.95 1471.9 1479.84" y="391.7" font-family="'Liberation Serif','Noto Serif CJK SC',serif" font-size="12.5" fill="#231815" stroke="#231815" stroke-width="0.32" text-anchor="middle">11I+</text>
<text transform="scale(0.56,1)" x="1494.64 1502.58 1510.53 1518.48" y="391.7" font-family="'Liberation Serif','Noto Serif CJK SC',serif" font-size="12.5" fill="#231815" stroke="#231815" stroke-width="0.32" text-anchor="middle">11I−</text>
<text transform="scale(0.56,1)" x="1533.27 1541.22 1549.17 1557.11" y="391.7" font-family="'Liberation Serif','Noto Serif CJK SC',serif" font-size="12.5" fill="#231815" stroke="#231815" stroke-width="0.32" text-anchor="middle">12I+</text>
<text transform="scale(0.56,1)" x="1571.91 1579.85 1587.8 1595.75" y="391.7" font-family="'Liberation Serif','Noto Serif CJK SC',serif" font-size="12.5" fill="#231815" stroke="#231815" stroke-width="0.32" text-anchor="middle">12I−</text>
</g>
<g id="slot3">
<rect x="116.7" y="485.4" width="779.6" height="38" fill="none" stroke="#231815" stroke-width="1.15"/>
<line x1="116.7" y1="496.6" x2="896.3" y2="496.6" stroke="#231815" stroke-width="1.15"/>
<line x1="116.7" y1="499.2" x2="896.3" y2="499.2" stroke="#231815" stroke-width="1.15"/>
<line x1="116.7" y1="520.6" x2="896.3" y2="520.6" stroke="#231815" stroke-width="1.15"/>
<line x1="140.23" y1="496.6" x2="140.23" y2="523.4" stroke="#3b312e" stroke-width="1.25"/>
<line x1="161.87" y1="496.6" x2="161.87" y2="523.4" stroke="#3b312e" stroke-width="1.25"/>
<line x1="183.5" y1="496.6" x2="183.5" y2="523.4" stroke="#3b312e" stroke-width="1.25"/>
<line x1="205.14" y1="496.6" x2="205.14" y2="523.4" stroke="#3b312e" stroke-width="1.25"/>
<line x1="226.78" y1="496.6" x2="226.78" y2="523.4" stroke="#3b312e" stroke-width="1.25"/>
<line x1="248.41" y1="496.6" x2="248.41" y2="523.4" stroke="#3b312e" stroke-width="1.25"/>
<line x1="270.05" y1="496.6" x2="270.05" y2="523.4" stroke="#3b312e" stroke-width="1.25"/>
<line x1="291.68" y1="496.6" x2="291.68" y2="523.4" stroke="#3b312e" stroke-width="1.25"/>
<line x1="313.31" y1="496.6" x2="313.31" y2="523.4" stroke="#3b312e" stroke-width="1.25"/>
<line x1="334.95" y1="496.6" x2="334.95" y2="523.4" stroke="#3b312e" stroke-width="1.25"/>
<line x1="356.59" y1="496.6" x2="356.59" y2="523.4" stroke="#3b312e" stroke-width="1.25"/>
<line x1="378.22" y1="496.6" x2="378.22" y2="523.4" stroke="#3b312e" stroke-width="1.25"/>
<line x1="399.86" y1="496.6" x2="399.86" y2="523.4" stroke="#3b312e" stroke-width="1.25"/>
<line x1="421.49" y1="496.6" x2="421.49" y2="523.4" stroke="#3b312e" stroke-width="1.25"/>
<line x1="443.12" y1="496.6" x2="443.12" y2="523.4" stroke="#3b312e" stroke-width="1.25"/>
<line x1="464.76" y1="496.6" x2="464.76" y2="523.4" stroke="#3b312e" stroke-width="1.25"/>
<line x1="486.39" y1="496.6" x2="486.39" y2="523.4" stroke="#3b312e" stroke-width="1.25"/>
<line x1="508.03" y1="496.6" x2="508.03" y2="523.4" stroke="#3b312e" stroke-width="1.25"/>
<line x1="529.67" y1="496.6" x2="529.67" y2="523.4" stroke="#3b312e" stroke-width="1.25"/>
<line x1="551.3" y1="496.6" x2="551.3" y2="523.4" stroke="#3b312e" stroke-width="1.25"/>
<line x1="572.94" y1="496.6" x2="572.94" y2="523.4" stroke="#3b312e" stroke-width="1.25"/>
<line x1="594.57" y1="496.6" x2="594.57" y2="523.4" stroke="#3b312e" stroke-width="1.25"/>
<line x1="616.21" y1="496.6" x2="616.21" y2="523.4" stroke="#3b312e" stroke-width="1.25"/>
<line x1="637.84" y1="496.6" x2="637.84" y2="523.4" stroke="#3b312e" stroke-width="1.25"/>
<line x1="659.48" y1="496.6" x2="659.48" y2="523.4" stroke="#3b312e" stroke-width="1.25"/>
<line x1="681.11" y1="496.6" x2="681.11" y2="523.4" stroke="#3b312e" stroke-width="1.25"/>
<line x1="702.75" y1="496.6" x2="702.75" y2="523.4" stroke="#3b312e" stroke-width="1.25"/>
<line x1="724.38" y1="496.6" x2="724.38" y2="523.4" stroke="#3b312e" stroke-width="1.25"/>
<line x1="746.02" y1="496.6" x2="746.02" y2="523.4" stroke="#3b312e" stroke-width="1.25"/>
<line x1="767.65" y1="496.6" x2="767.65" y2="523.4" stroke="#3b312e" stroke-width="1.25"/>
<line x1="789.29" y1="496.6" x2="789.29" y2="523.4" stroke="#3b312e" stroke-width="1.25"/>
<line x1="810.92" y1="496.6" x2="810.92" y2="523.4" stroke="#3b312e" stroke-width="1.25"/>
<line x1="832.56" y1="496.6" x2="832.56" y2="523.4" stroke="#3b312e" stroke-width="1.25"/>
<line x1="854.19" y1="496.6" x2="854.19" y2="523.4" stroke="#3b312e" stroke-width="1.25"/>
<line x1="875.83" y1="496.6" x2="875.83" y2="523.4" stroke="#3b312e" stroke-width="1.25"/>
<text transform="scale(0.76,1)" x="162.39 169.89 177.39" y="515.1" font-family="'Liberation Serif','Noto Serif CJK SC',serif" font-size="12.9" fill="#231815" stroke="#231815" stroke-width="0.2" text-anchor="middle">1F−</text>
<text transform="scale(0.76,1)" x="190.86 198.36 205.86" y="515.1" font-family="'Liberation Serif','Noto Serif CJK SC',serif" font-size="12.9" fill="#231815" stroke="#231815" stroke-width="0.2" text-anchor="middle">1F+</text>
<text transform="scale(0.718,1)" x="232.16 240.09 248.03" y="515.1" font-family="'Liberation Serif','Noto Serif CJK SC',serif" font-size="12.9" fill="#231815" stroke="#231815" stroke-width="0.2" text-anchor="middle">1V+</text>
<text transform="scale(0.76,1)" x="247.79 255.29 262.79" y="515.1" font-family="'Liberation Serif','Noto Serif CJK SC',serif" font-size="12.9" fill="#231815" stroke="#231815" stroke-width="0.2" text-anchor="middle">2F−</text>
<text transform="scale(0.76,1)" x="276.26 283.76 291.26" y="515.1" font-family="'Liberation Serif','Noto Serif CJK SC',serif" font-size="12.9" fill="#231815" stroke="#231815" stroke-width="0.2" text-anchor="middle">2F+</text>
<text transform="scale(0.718,1)" x="322.55 330.49 338.43" y="515.1" font-family="'Liberation Serif','Noto Serif CJK SC',serif" font-size="12.9" fill="#231815" stroke="#231815" stroke-width="0.2" text-anchor="middle">2V+</text>
<text transform="scale(0.76,1)" x="333.19 340.69 348.19" y="515.1" font-family="'Liberation Serif','Noto Serif CJK SC',serif" font-size="12.9" fill="#231815" stroke="#231815" stroke-width="0.2" text-anchor="middle">3F−</text>
<text transform="scale(0.76,1)" x="361.66 369.16 376.66" y="515.1" font-family="'Liberation Serif','Noto Serif CJK SC',serif" font-size="12.9" fill="#231815" stroke="#231815" stroke-width="0.2" text-anchor="middle">3F+</text>
<text transform="scale(0.718,1)" x="412.95 420.89 428.83" y="515.1" font-family="'Liberation Serif','Noto Serif CJK SC',serif" font-size="12.9" fill="#231815" stroke="#231815" stroke-width="0.2" text-anchor="middle">3V+</text>
<text transform="scale(0.76,1)" x="418.6 426.1 433.6" y="515.1" font-family="'Liberation Serif','Noto Serif CJK SC',serif" font-size="12.9" fill="#231815" stroke="#231815" stroke-width="0.2" text-anchor="middle">4F−</text>
<text transform="scale(0.76,1)" x="447.06 454.56 462.06" y="515.1" font-family="'Liberation Serif','Noto Serif CJK SC',serif" font-size="12.9" fill="#231815" stroke="#231815" stroke-width="0.2" text-anchor="middle">4F+</text>
<text transform="scale(0.718,1)" x="503.35 511.28 519.22" y="515.1" font-family="'Liberation Serif','Noto Serif CJK SC',serif" font-size="12.9" fill="#231815" stroke="#231815" stroke-width="0.2" text-anchor="middle">4V+</text>
<text transform="scale(0.76,1)" x="504 511.5 519" y="515.1" font-family="'Liberation Serif','Noto Serif CJK SC',serif" font-size="12.9" fill="#231815" stroke="#231815" stroke-width="0.2" text-anchor="middle">5F−</text>
<text transform="scale(0.76,1)" x="532.46 539.96 547.46" y="515.1" font-family="'Liberation Serif','Noto Serif CJK SC',serif" font-size="12.9" fill="#231815" stroke="#231815" stroke-width="0.2" text-anchor="middle">5F+</text>
<text transform="scale(0.718,1)" x="593.74 601.68 609.62" y="515.1" font-family="'Liberation Serif','Noto Serif CJK SC',serif" font-size="12.9" fill="#231815" stroke="#231815" stroke-width="0.2" text-anchor="middle">5V+</text>
<text transform="scale(0.76,1)" x="589.4 596.9 604.4" y="515.1" font-family="'Liberation Serif','Noto Serif CJK SC',serif" font-size="12.9" fill="#231815" stroke="#231815" stroke-width="0.2" text-anchor="middle">6F−</text>
<text transform="scale(0.76,1)" x="617.87 625.37 632.87" y="515.1" font-family="'Liberation Serif','Noto Serif CJK SC',serif" font-size="12.9" fill="#231815" stroke="#231815" stroke-width="0.2" text-anchor="middle">6F+</text>
<text transform="scale(0.718,1)" x="684.14 692.08 700.02" y="515.1" font-family="'Liberation Serif','Noto Serif CJK SC',serif" font-size="12.9" fill="#231815" stroke="#231815" stroke-width="0.2" text-anchor="middle">6V+</text>
<text transform="scale(0.76,1)" x="674.8 682.3 689.8" y="515.1" font-family="'Liberation Serif','Noto Serif CJK SC',serif" font-size="12.9" fill="#231815" stroke="#231815" stroke-width="0.2" text-anchor="middle">7F−</text>
<text transform="scale(0.76,1)" x="703.27 710.77 718.27" y="515.1" font-family="'Liberation Serif','Noto Serif CJK SC',serif" font-size="12.9" fill="#231815" stroke="#231815" stroke-width="0.2" text-anchor="middle">7F+</text>
<text transform="scale(0.718,1)" x="774.54 782.48 790.41" y="515.1" font-family="'Liberation Serif','Noto Serif CJK SC',serif" font-size="12.9" fill="#231815" stroke="#231815" stroke-width="0.2" text-anchor="middle">7V+</text>
<text transform="scale(0.76,1)" x="760.2 767.7 775.2" y="515.1" font-family="'Liberation Serif','Noto Serif CJK SC',serif" font-size="12.9" fill="#231815" stroke="#231815" stroke-width="0.2" text-anchor="middle">8F−</text>
<text transform="scale(0.76,1)" x="788.67 796.17 803.67" y="515.1" font-family="'Liberation Serif','Noto Serif CJK SC',serif" font-size="12.9" fill="#231815" stroke="#231815" stroke-width="0.2" text-anchor="middle">8F+</text>
<text transform="scale(0.718,1)" x="864.93 872.87 880.81" y="515.1" font-family="'Liberation Serif','Noto Serif CJK SC',serif" font-size="12.9" fill="#231815" stroke="#231815" stroke-width="0.2" text-anchor="middle">8V+</text>
<text transform="scale(0.76,1)" x="845.6 853.1 860.6" y="515.1" font-family="'Liberation Serif','Noto Serif CJK SC',serif" font-size="12.9" fill="#231815" stroke="#231815" stroke-width="0.2" text-anchor="middle">9F−</text>
<text transform="scale(0.76,1)" x="874.07 881.57 889.07" y="515.1" font-family="'Liberation Serif','Noto Serif CJK SC',serif" font-size="12.9" fill="#231815" stroke="#231815" stroke-width="0.2" text-anchor="middle">9F+</text>
<text transform="scale(0.718,1)" x="955.33 963.27 971.21" y="515.1" font-family="'Liberation Serif','Noto Serif CJK SC',serif" font-size="12.9" fill="#231815" stroke="#231815" stroke-width="0.2" text-anchor="middle">9V+</text>
<text transform="scale(0.56,1)" x="1262.21 1269.98 1277.75 1285.51" y="515.1" font-family="'Liberation Serif','Noto Serif CJK SC',serif" font-size="12.9" fill="#231815" stroke="#231815" stroke-width="0.32" text-anchor="middle">10F−</text>
<text transform="scale(0.56,1)" x="1300.84 1308.61 1316.38 1324.15" y="515.1" font-family="'Liberation Serif','Noto Serif CJK SC',serif" font-size="12.9" fill="#231815" stroke="#231815" stroke-width="0.32" text-anchor="middle">10F+</text>
<text transform="scale(0.557,1)" x="1346.69 1354.5 1362.31 1370.12" y="515.1" font-family="'Liberation Serif','Noto Serif CJK SC',serif" font-size="12.9" fill="#231815" stroke="#231815" stroke-width="0.32" text-anchor="middle">10V+</text>
<text transform="scale(0.56,1)" x="1378.11 1385.88 1393.65 1401.42" y="515.1" font-family="'Liberation Serif','Noto Serif CJK SC',serif" font-size="12.9" fill="#231815" stroke="#231815" stroke-width="0.32" text-anchor="middle">11F−</text>
<text transform="scale(0.56,1)" x="1416.75 1424.51 1432.28 1440.05" y="515.1" font-family="'Liberation Serif','Noto Serif CJK SC',serif" font-size="12.9" fill="#231815" stroke="#231815" stroke-width="0.32" text-anchor="middle">11F+</text>
<text transform="scale(0.557,1)" x="1463.22 1471.03 1478.84 1486.65" y="515.1" font-family="'Liberation Serif','Noto Serif CJK SC',serif" font-size="12.9" fill="#231815" stroke="#231815" stroke-width="0.32" text-anchor="middle">11V+</text>
<text transform="scale(0.56,1)" x="1494.01 1501.78 1509.55 1517.32" y="515.1" font-family="'Liberation Serif','Noto Serif CJK SC',serif" font-size="12.9" fill="#231815" stroke="#231815" stroke-width="0.32" text-anchor="middle">12F−</text>
<text transform="scale(0.56,1)" x="1532.65 1540.42 1548.18 1555.95" y="515.1" font-family="'Liberation Serif','Noto Serif CJK SC',serif" font-size="12.9" fill="#231815" stroke="#231815" stroke-width="0.32" text-anchor="middle">12F+</text>
<text transform="scale(0.557,1)" x="1579.74 1587.55 1595.36 1603.17" y="515.1" font-family="'Liberation Serif','Noto Serif CJK SC',serif" font-size="12.9" fill="#231815" stroke="#231815" stroke-width="0.32" text-anchor="middle">12V+</text>
</g>
<g id="slot2">
<rect x="116.7" y="562.6" width="779.6" height="38.4" fill="none" stroke="#231815" stroke-width="1.15"/>
<line x1="116.7" y1="574" x2="896.3" y2="574" stroke="#231815" stroke-width="1.15"/>
<line x1="116.7" y1="576.4" x2="896.3" y2="576.4" stroke="#231815" stroke-width="1.15"/>
<line x1="116.7" y1="598.2" x2="896.3" y2="598.2" stroke="#231815" stroke-width="1.15"/>
<line x1="140.23" y1="574" x2="140.23" y2="601" stroke="#3b312e" stroke-width="1.25"/>
<line x1="161.87" y1="574" x2="161.87" y2="601" stroke="#3b312e" stroke-width="1.25"/>
<line x1="183.5" y1="574" x2="183.5" y2="601" stroke="#3b312e" stroke-width="1.25"/>
<line x1="205.14" y1="574" x2="205.14" y2="601" stroke="#3b312e" stroke-width="1.25"/>
<line x1="226.78" y1="574" x2="226.78" y2="601" stroke="#3b312e" stroke-width="1.25"/>
<line x1="248.41" y1="574" x2="248.41" y2="601" stroke="#3b312e" stroke-width="1.25"/>
<line x1="270.05" y1="574" x2="270.05" y2="601" stroke="#3b312e" stroke-width="1.25"/>
<line x1="291.68" y1="574" x2="291.68" y2="601" stroke="#3b312e" stroke-width="1.25"/>
<line x1="313.31" y1="574" x2="313.31" y2="601" stroke="#3b312e" stroke-width="1.25"/>
<line x1="334.95" y1="574" x2="334.95" y2="601" stroke="#3b312e" stroke-width="1.25"/>
<line x1="356.59" y1="574" x2="356.59" y2="601" stroke="#3b312e" stroke-width="1.25"/>
<line x1="378.22" y1="574" x2="378.22" y2="601" stroke="#3b312e" stroke-width="1.25"/>
<line x1="399.86" y1="574" x2="399.86" y2="601" stroke="#3b312e" stroke-width="1.25"/>
<line x1="421.49" y1="574" x2="421.49" y2="601" stroke="#3b312e" stroke-width="1.25"/>
<line x1="443.12" y1="574" x2="443.12" y2="601" stroke="#3b312e" stroke-width="1.25"/>
<line x1="464.76" y1="574" x2="464.76" y2="601" stroke="#3b312e" stroke-width="1.25"/>
<line x1="486.39" y1="574" x2="486.39" y2="601" stroke="#3b312e" stroke-width="1.25"/>
<line x1="508.03" y1="574" x2="508.03" y2="601" stroke="#3b312e" stroke-width="1.25"/>
<line x1="529.67" y1="574" x2="529.67" y2="601" stroke="#3b312e" stroke-width="1.25"/>
<line x1="551.3" y1="574" x2="551.3" y2="601" stroke="#3b312e" stroke-width="1.25"/>
<line x1="572.94" y1="574" x2="572.94" y2="601" stroke="#3b312e" stroke-width="1.25"/>
<line x1="594.57" y1="574" x2="594.57" y2="601" stroke="#3b312e" stroke-width="1.25"/>
<line x1="616.21" y1="574" x2="616.21" y2="601" stroke="#3b312e" stroke-width="1.25"/>
<line x1="637.84" y1="574" x2="637.84" y2="601" stroke="#3b312e" stroke-width="1.25"/>
<line x1="659.48" y1="574" x2="659.48" y2="601" stroke="#3b312e" stroke-width="1.25"/>
<line x1="681.11" y1="574" x2="681.11" y2="601" stroke="#3b312e" stroke-width="1.25"/>
<line x1="702.75" y1="574" x2="702.75" y2="601" stroke="#3b312e" stroke-width="1.25"/>
<line x1="724.38" y1="574" x2="724.38" y2="601" stroke="#3b312e" stroke-width="1.25"/>
<line x1="746.02" y1="574" x2="746.02" y2="601" stroke="#3b312e" stroke-width="1.25"/>
<line x1="767.65" y1="574" x2="767.65" y2="601" stroke="#3b312e" stroke-width="1.25"/>
<line x1="789.29" y1="574" x2="789.29" y2="601" stroke="#3b312e" stroke-width="1.25"/>
<line x1="810.92" y1="574" x2="810.92" y2="601" stroke="#3b312e" stroke-width="1.25"/>
<line x1="832.56" y1="574" x2="832.56" y2="601" stroke="#3b312e" stroke-width="1.25"/>
<line x1="854.19" y1="574" x2="854.19" y2="601" stroke="#3b312e" stroke-width="1.25"/>
<line x1="875.83" y1="574" x2="875.83" y2="601" stroke="#3b312e" stroke-width="1.25"/>
<text transform="scale(0.735,1)" x="166.6 174.42 182.24" y="591.8" font-family="'Liberation Serif','Noto Serif CJK SC',serif" font-size="12.9" fill="#231815" stroke="#231815" stroke-width="0.2" text-anchor="middle">13A</text>
<text transform="scale(0.76,1)" x="189.61 197.18 204.74" y="591.8" font-family="'Liberation Serif','Noto Serif CJK SC',serif" font-size="12.9" fill="#231815" stroke="#231815" stroke-width="0.2" text-anchor="middle">13B</text>
<text transform="scale(0.76,1)" x="218.11 225.67 233.24" y="591.8" font-family="'Liberation Serif','Noto Serif CJK SC',serif" font-size="12.9" fill="#231815" stroke="#231815" stroke-width="0.2" text-anchor="middle">13C</text>
<text transform="scale(0.735,1)" x="254.99 262.81 270.63" y="591.8" font-family="'Liberation Serif','Noto Serif CJK SC',serif" font-size="12.9" fill="#231815" stroke="#231815" stroke-width="0.2" text-anchor="middle">14A</text>
<text transform="scale(0.76,1)" x="275.09 282.66 290.22" y="591.8" font-family="'Liberation Serif','Noto Serif CJK SC',serif" font-size="12.9" fill="#231815" stroke="#231815" stroke-width="0.2" text-anchor="middle">14B</text>
<text transform="scale(0.76,1)" x="303.59 311.15 318.72" y="591.8" font-family="'Liberation Serif','Noto Serif CJK SC',serif" font-size="12.9" fill="#231815" stroke="#231815" stroke-width="0.2" text-anchor="middle">14C</text>
<text transform="scale(0.735,1)" x="343.37 351.2 359.02" y="591.8" font-family="'Liberation Serif','Noto Serif CJK SC',serif" font-size="12.9" fill="#231815" stroke="#231815" stroke-width="0.2" text-anchor="middle">15A</text>
<text transform="scale(0.76,1)" x="360.57 368.14 375.7" y="591.8" font-family="'Liberation Serif','Noto Serif CJK SC',serif" font-size="12.9" fill="#231815" stroke="#231815" stroke-width="0.2" text-anchor="middle">15B</text>
<text transform="scale(0.76,1)" x="389.07 396.63 404.2" y="591.8" font-family="'Liberation Serif','Noto Serif CJK SC',serif" font-size="12.9" fill="#231815" stroke="#231815" stroke-width="0.2" text-anchor="middle">15C</text>
<text transform="scale(0.735,1)" x="431.76 439.59 447.41" y="591.8" font-family="'Liberation Serif','Noto Serif CJK SC',serif" font-size="12.9" fill="#231815" stroke="#231815" stroke-width="0.2" text-anchor="middle">16A</text>
<text transform="scale(0.76,1)" x="446.05 453.62 461.18" y="591.8" font-family="'Liberation Serif','Noto Serif CJK SC',serif" font-size="12.9" fill="#231815" stroke="#231815" stroke-width="0.2" text-anchor="middle">16B</text>
<text transform="scale(0.76,1)" x="474.55 482.11 489.68" y="591.8" font-family="'Liberation Serif','Noto Serif CJK SC',serif" font-size="12.9" fill="#231815" stroke="#231815" stroke-width="0.2" text-anchor="middle">16C</text>
<text transform="scale(0.735,1)" x="520.15 527.97 535.8" y="591.8" font-family="'Liberation Serif','Noto Serif CJK SC',serif" font-size="12.9" fill="#231815" stroke="#231815" stroke-width="0.2" text-anchor="middle">17A</text>
<text transform="scale(0.76,1)" x="531.53 539.1 546.66" y="591.8" font-family="'Liberation Serif','Noto Serif CJK SC',serif" font-size="12.9" fill="#231815" stroke="#231815" stroke-width="0.2" text-anchor="middle">17B</text>
<text transform="scale(0.76,1)" x="560.03 567.59 575.16" y="591.8" font-family="'Liberation Serif','Noto Serif CJK SC',serif" font-size="12.9" fill="#231815" stroke="#231815" stroke-width="0.2" text-anchor="middle">17C</text>
<text transform="scale(0.735,1)" x="608.54 616.36 624.18" y="591.8" font-family="'Liberation Serif','Noto Serif CJK SC',serif" font-size="12.9" fill="#231815" stroke="#231815" stroke-width="0.2" text-anchor="middle">18A</text>
<text transform="scale(0.76,1)" x="617.01 624.58 632.14" y="591.8" font-family="'Liberation Serif','Noto Serif CJK SC',serif" font-size="12.9" fill="#231815" stroke="#231815" stroke-width="0.2" text-anchor="middle">18B</text>
<text transform="scale(0.76,1)" x="645.51 653.07 660.64" y="591.8" font-family="'Liberation Serif','Noto Serif CJK SC',serif" font-size="12.9" fill="#231815" stroke="#231815" stroke-width="0.2" text-anchor="middle">18C</text>
<text transform="scale(0.735,1)" x="696.93 704.75 712.57" y="591.8" font-family="'Liberation Serif','Noto Serif CJK SC',serif" font-size="12.9" fill="#231815" stroke="#231815" stroke-width="0.2" text-anchor="middle">19A</text>
<text transform="scale(0.76,1)" x="702.49 710.06 717.62" y="591.8" font-family="'Liberation Serif','Noto Serif CJK SC',serif" font-size="12.9" fill="#231815" stroke="#231815" stroke-width="0.2" text-anchor="middle">19B</text>
<text transform="scale(0.76,1)" x="730.99 738.55 746.12" y="591.8" font-family="'Liberation Serif','Noto Serif CJK SC',serif" font-size="12.9" fill="#231815" stroke="#231815" stroke-width="0.2" text-anchor="middle">19C</text>
<text transform="scale(0.735,1)" x="785.31 793.14 800.96" y="591.8" font-family="'Liberation Serif','Noto Serif CJK SC',serif" font-size="12.9" fill="#231815" stroke="#231815" stroke-width="0.2" text-anchor="middle">20A</text>
<text transform="scale(0.76,1)" x="787.97 795.54 803.11" y="591.8" font-family="'Liberation Serif','Noto Serif CJK SC',serif" font-size="12.9" fill="#231815" stroke="#231815" stroke-width="0.2" text-anchor="middle">20B</text>
<text transform="scale(0.76,1)" x="816.47 824.03 831.6" y="591.8" font-family="'Liberation Serif','Noto Serif CJK SC',serif" font-size="12.9" fill="#231815" stroke="#231815" stroke-width="0.2" text-anchor="middle">20C</text>
<text transform="scale(0.735,1)" x="873.7 881.52 889.35" y="591.8" font-family="'Liberation Serif','Noto Serif CJK SC',serif" font-size="12.9" fill="#231815" stroke="#231815" stroke-width="0.2" text-anchor="middle">21A</text>
<text transform="scale(0.76,1)" x="873.45 881.02 888.59" y="591.8" font-family="'Liberation Serif','Noto Serif CJK SC',serif" font-size="12.9" fill="#231815" stroke="#231815" stroke-width="0.2" text-anchor="middle">21B</text>
<text transform="scale(0.76,1)" x="901.95 909.51 917.08" y="591.8" font-family="'Liberation Serif','Noto Serif CJK SC',serif" font-size="12.9" fill="#231815" stroke="#231815" stroke-width="0.2" text-anchor="middle">21C</text>
<text transform="scale(0.735,1)" x="962.09 969.91 977.73" y="591.8" font-family="'Liberation Serif','Noto Serif CJK SC',serif" font-size="12.9" fill="#231815" stroke="#231815" stroke-width="0.2" text-anchor="middle">22A</text>
<text transform="scale(0.76,1)" x="958.93 966.5 974.07" y="591.8" font-family="'Liberation Serif','Noto Serif CJK SC',serif" font-size="12.9" fill="#231815" stroke="#231815" stroke-width="0.2" text-anchor="middle">22B</text>
<text transform="scale(0.76,1)" x="987.43 994.99 1002.56" y="591.8" font-family="'Liberation Serif','Noto Serif CJK SC',serif" font-size="12.9" fill="#231815" stroke="#231815" stroke-width="0.2" text-anchor="middle">22C</text>
<text transform="scale(0.735,1)" x="1050.48 1058.3 1066.12" y="591.8" font-family="'Liberation Serif','Noto Serif CJK SC',serif" font-size="12.9" fill="#231815" stroke="#231815" stroke-width="0.2" text-anchor="middle">23A</text>
<text transform="scale(0.76,1)" x="1044.41 1051.98 1059.55" y="591.8" font-family="'Liberation Serif','Noto Serif CJK SC',serif" font-size="12.9" fill="#231815" stroke="#231815" stroke-width="0.2" text-anchor="middle">23B</text>
<text transform="scale(0.76,1)" x="1072.91 1080.47 1088.04" y="591.8" font-family="'Liberation Serif','Noto Serif CJK SC',serif" font-size="12.9" fill="#231815" stroke="#231815" stroke-width="0.2" text-anchor="middle">23C</text>
<text transform="scale(0.735,1)" x="1138.86 1146.69 1154.51" y="591.8" font-family="'Liberation Serif','Noto Serif CJK SC',serif" font-size="12.9" fill="#231815" stroke="#231815" stroke-width="0.2" text-anchor="middle">24A</text>
<text transform="scale(0.76,1)" x="1129.89 1137.46 1145.03" y="591.8" font-family="'Liberation Serif','Noto Serif CJK SC',serif" font-size="12.9" fill="#231815" stroke="#231815" stroke-width="0.2" text-anchor="middle">24B</text>
<text transform="scale(0.76,1)" x="1158.39 1165.95 1173.52" y="591.8" font-family="'Liberation Serif','Noto Serif CJK SC',serif" font-size="12.9" fill="#231815" stroke="#231815" stroke-width="0.2" text-anchor="middle">24C</text>
</g>
<g id="slot1">
<rect x="116.7" y="640.3" width="779.6" height="37.8" fill="none" stroke="#231815" stroke-width="1.15"/>
<line x1="116.7" y1="651.5" x2="896.3" y2="651.5" stroke="#231815" stroke-width="1.15"/>
<line x1="116.7" y1="654" x2="896.3" y2="654" stroke="#231815" stroke-width="1.15"/>
<line x1="116.7" y1="675.4" x2="896.3" y2="675.4" stroke="#231815" stroke-width="1.15"/>
<line x1="140.23" y1="651.5" x2="140.23" y2="678.1" stroke="#3b312e" stroke-width="1.25"/>
<line x1="161.87" y1="651.5" x2="161.87" y2="678.1" stroke="#3b312e" stroke-width="1.25"/>
<line x1="183.5" y1="651.5" x2="183.5" y2="678.1" stroke="#3b312e" stroke-width="1.25"/>
<line x1="205.14" y1="651.5" x2="205.14" y2="678.1" stroke="#3b312e" stroke-width="1.25"/>
<line x1="226.78" y1="651.5" x2="226.78" y2="678.1" stroke="#3b312e" stroke-width="1.25"/>
<line x1="248.41" y1="651.5" x2="248.41" y2="678.1" stroke="#3b312e" stroke-width="1.25"/>
<line x1="270.05" y1="651.5" x2="270.05" y2="678.1" stroke="#3b312e" stroke-width="1.25"/>
<line x1="291.68" y1="651.5" x2="291.68" y2="678.1" stroke="#3b312e" stroke-width="1.25"/>
<line x1="313.31" y1="651.5" x2="313.31" y2="678.1" stroke="#3b312e" stroke-width="1.25"/>
<line x1="334.95" y1="651.5" x2="334.95" y2="678.1" stroke="#3b312e" stroke-width="1.25"/>
<line x1="356.59" y1="651.5" x2="356.59" y2="678.1" stroke="#3b312e" stroke-width="1.25"/>
<line x1="378.22" y1="651.5" x2="378.22" y2="678.1" stroke="#3b312e" stroke-width="1.25"/>
<line x1="399.86" y1="651.5" x2="399.86" y2="678.1" stroke="#3b312e" stroke-width="1.25"/>
<line x1="421.49" y1="651.5" x2="421.49" y2="678.1" stroke="#3b312e" stroke-width="1.25"/>
<line x1="443.12" y1="651.5" x2="443.12" y2="678.1" stroke="#3b312e" stroke-width="1.25"/>
<line x1="464.76" y1="651.5" x2="464.76" y2="678.1" stroke="#3b312e" stroke-width="1.25"/>
<line x1="486.39" y1="651.5" x2="486.39" y2="678.1" stroke="#3b312e" stroke-width="1.25"/>
<line x1="508.03" y1="651.5" x2="508.03" y2="678.1" stroke="#3b312e" stroke-width="1.25"/>
<line x1="529.67" y1="651.5" x2="529.67" y2="678.1" stroke="#3b312e" stroke-width="1.25"/>
<line x1="551.3" y1="651.5" x2="551.3" y2="678.1" stroke="#3b312e" stroke-width="1.25"/>
<line x1="572.94" y1="651.5" x2="572.94" y2="678.1" stroke="#3b312e" stroke-width="1.25"/>
<line x1="594.57" y1="651.5" x2="594.57" y2="678.1" stroke="#3b312e" stroke-width="1.25"/>
<line x1="616.21" y1="651.5" x2="616.21" y2="678.1" stroke="#3b312e" stroke-width="1.25"/>
<line x1="637.84" y1="651.5" x2="637.84" y2="678.1" stroke="#3b312e" stroke-width="1.25"/>
<line x1="659.48" y1="651.5" x2="659.48" y2="678.1" stroke="#3b312e" stroke-width="1.25"/>
<line x1="681.11" y1="651.5" x2="681.11" y2="678.1" stroke="#3b312e" stroke-width="1.25"/>
<line x1="702.75" y1="651.5" x2="702.75" y2="678.1" stroke="#3b312e" stroke-width="1.25"/>
<line x1="724.38" y1="651.5" x2="724.38" y2="678.1" stroke="#3b312e" stroke-width="1.25"/>
<line x1="746.02" y1="651.5" x2="746.02" y2="678.1" stroke="#3b312e" stroke-width="1.25"/>
<line x1="767.65" y1="651.5" x2="767.65" y2="678.1" stroke="#3b312e" stroke-width="1.25"/>
<line x1="789.29" y1="651.5" x2="789.29" y2="678.1" stroke="#3b312e" stroke-width="1.25"/>
<line x1="810.92" y1="651.5" x2="810.92" y2="678.1" stroke="#3b312e" stroke-width="1.25"/>
<line x1="832.56" y1="651.5" x2="832.56" y2="678.1" stroke="#3b312e" stroke-width="1.25"/>
<line x1="854.19" y1="651.5" x2="854.19" y2="678.1" stroke="#3b312e" stroke-width="1.25"/>
<line x1="875.83" y1="651.5" x2="875.83" y2="678.1" stroke="#3b312e" stroke-width="1.25"/>
<text transform="scale(0.723,1)" x="173.03 181.05" y="670.1" font-family="'Liberation Serif','Noto Serif CJK SC',serif" font-size="12.9" fill="#231815" stroke="#231815" stroke-width="0.2" text-anchor="middle">1A</text>
<text transform="scale(0.76,1)" x="193.17 200.8" y="670.1" font-family="'Liberation Serif','Noto Serif CJK SC',serif" font-size="12.9" fill="#231815" stroke="#231815" stroke-width="0.2" text-anchor="middle">1B</text>
<text transform="scale(0.76,1)" x="221.73 229.36" y="670.1" font-family="'Liberation Serif','Noto Serif CJK SC',serif" font-size="12.9" fill="#231815" stroke="#231815" stroke-width="0.2" text-anchor="middle">1C</text>
<text transform="scale(0.723,1)" x="263.1 271.12" y="670.1" font-family="'Liberation Serif','Noto Serif CJK SC',serif" font-size="12.9" fill="#231815" stroke="#231815" stroke-width="0.2" text-anchor="middle">2A</text>
<text transform="scale(0.76,1)" x="278.85 286.48" y="670.1" font-family="'Liberation Serif','Noto Serif CJK SC',serif" font-size="12.9" fill="#231815" stroke="#231815" stroke-width="0.2" text-anchor="middle">2B</text>
<text transform="scale(0.76,1)" x="307.41 315.05" y="670.1" font-family="'Liberation Serif','Noto Serif CJK SC',serif" font-size="12.9" fill="#231815" stroke="#231815" stroke-width="0.2" text-anchor="middle">2C</text>
<text transform="scale(0.723,1)" x="353.17 361.19" y="670.1" font-family="'Liberation Serif','Noto Serif CJK SC',serif" font-size="12.9" fill="#231815" stroke="#231815" stroke-width="0.2" text-anchor="middle">3A</text>
<text transform="scale(0.76,1)" x="364.54 372.17" y="670.1" font-family="'Liberation Serif','Noto Serif CJK SC',serif" font-size="12.9" fill="#231815" stroke="#231815" stroke-width="0.2" text-anchor="middle">3B</text>
<text transform="scale(0.76,1)" x="393.1 400.73" y="670.1" font-family="'Liberation Serif','Noto Serif CJK SC',serif" font-size="12.9" fill="#231815" stroke="#231815" stroke-width="0.2" text-anchor="middle">3C</text>
<text transform="scale(0.723,1)" x="443.24 451.26" y="670.1" font-family="'Liberation Serif','Noto Serif CJK SC',serif" font-size="12.9" fill="#231815" stroke="#231815" stroke-width="0.2" text-anchor="middle">4A</text>
<text transform="scale(0.76,1)" x="450.22 457.86" y="670.1" font-family="'Liberation Serif','Noto Serif CJK SC',serif" font-size="12.9" fill="#231815" stroke="#231815" stroke-width="0.2" text-anchor="middle">4B</text>
<text transform="scale(0.76,1)" x="478.79 486.42" y="670.1" font-family="'Liberation Serif','Noto Serif CJK SC',serif" font-size="12.9" fill="#231815" stroke="#231815" stroke-width="0.2" text-anchor="middle">4C</text>
<text transform="scale(0.723,1)" x="533.31 541.33" y="670.1" font-family="'Liberation Serif','Noto Serif CJK SC',serif" font-size="12.9" fill="#231815" stroke="#231815" stroke-width="0.2" text-anchor="middle">5A</text>
<text transform="scale(0.76,1)" x="535.91 543.54" y="670.1" font-family="'Liberation Serif','Noto Serif CJK SC',serif" font-size="12.9" fill="#231815" stroke="#231815" stroke-width="0.2" text-anchor="middle">5B</text>
<text transform="scale(0.76,1)" x="564.47 572.1" y="670.1" font-family="'Liberation Serif','Noto Serif CJK SC',serif" font-size="12.9" fill="#231815" stroke="#231815" stroke-width="0.2" text-anchor="middle">5C</text>
<text transform="scale(0.723,1)" x="623.38 631.4" y="670.1" font-family="'Liberation Serif','Noto Serif CJK SC',serif" font-size="12.9" fill="#231815" stroke="#231815" stroke-width="0.2" text-anchor="middle">6A</text>
<text transform="scale(0.76,1)" x="621.59 629.23" y="670.1" font-family="'Liberation Serif','Noto Serif CJK SC',serif" font-size="12.9" fill="#231815" stroke="#231815" stroke-width="0.2" text-anchor="middle">6B</text>
<text transform="scale(0.76,1)" x="650.16 657.79" y="670.1" font-family="'Liberation Serif','Noto Serif CJK SC',serif" font-size="12.9" fill="#231815" stroke="#231815" stroke-width="0.2" text-anchor="middle">6C</text>
<text transform="scale(0.723,1)" x="713.45 721.47" y="670.1" font-family="'Liberation Serif','Noto Serif CJK SC',serif" font-size="12.9" fill="#231815" stroke="#231815" stroke-width="0.2" text-anchor="middle">7A</text>
<text transform="scale(0.76,1)" x="707.28 714.91" y="670.1" font-family="'Liberation Serif','Noto Serif CJK SC',serif" font-size="12.9" fill="#231815" stroke="#231815" stroke-width="0.2" text-anchor="middle">7B</text>
<text transform="scale(0.76,1)" x="735.84 743.47" y="670.1" font-family="'Liberation Serif','Noto Serif CJK SC',serif" font-size="12.9" fill="#231815" stroke="#231815" stroke-width="0.2" text-anchor="middle">7C</text>
<text transform="scale(0.723,1)" x="803.52 811.54" y="670.1" font-family="'Liberation Serif','Noto Serif CJK SC',serif" font-size="12.9" fill="#231815" stroke="#231815" stroke-width="0.2" text-anchor="middle">8A</text>
<text transform="scale(0.76,1)" x="792.97 800.6" y="670.1" font-family="'Liberation Serif','Noto Serif CJK SC',serif" font-size="12.9" fill="#231815" stroke="#231815" stroke-width="0.2" text-anchor="middle">8B</text>
<text transform="scale(0.76,1)" x="821.53 829.16" y="670.1" font-family="'Liberation Serif','Noto Serif CJK SC',serif" font-size="12.9" fill="#231815" stroke="#231815" stroke-width="0.2" text-anchor="middle">8C</text>
<text transform="scale(0.723,1)" x="893.59 901.62" y="670.1" font-family="'Liberation Serif','Noto Serif CJK SC',serif" font-size="12.9" fill="#231815" stroke="#231815" stroke-width="0.2" text-anchor="middle">9A</text>
<text transform="scale(0.76,1)" x="878.65 886.28" y="670.1" font-family="'Liberation Serif','Noto Serif CJK SC',serif" font-size="12.9" fill="#231815" stroke="#231815" stroke-width="0.2" text-anchor="middle">9B</text>
<text transform="scale(0.76,1)" x="907.21 914.84" y="670.1" font-family="'Liberation Serif','Noto Serif CJK SC',serif" font-size="12.9" fill="#231815" stroke="#231815" stroke-width="0.2" text-anchor="middle">9C</text>
<text transform="scale(0.722,1)" x="980.21 988.04 995.86" y="670.1" font-family="'Liberation Serif','Noto Serif CJK SC',serif" font-size="12.9" fill="#231815" stroke="#231815" stroke-width="0.2" text-anchor="middle">10A</text>
<text transform="scale(0.76,1)" x="959.67 967.1 974.54" y="670.1" font-family="'Liberation Serif','Noto Serif CJK SC',serif" font-size="12.9" fill="#231815" stroke="#231815" stroke-width="0.2" text-anchor="middle">10B</text>
<text transform="scale(0.76,1)" x="988.13 995.57 1003" y="670.1" font-family="'Liberation Serif','Noto Serif CJK SC',serif" font-size="12.9" fill="#231815" stroke="#231815" stroke-width="0.2" text-anchor="middle">10C</text>
<text transform="scale(0.722,1)" x="1070.11 1077.93 1085.76" y="670.1" font-family="'Liberation Serif','Noto Serif CJK SC',serif" font-size="12.9" fill="#231815" stroke="#231815" stroke-width="0.2" text-anchor="middle">11A</text>
<text transform="scale(0.76,1)" x="1045.07 1052.5 1059.94" y="670.1" font-family="'Liberation Serif','Noto Serif CJK SC',serif" font-size="12.9" fill="#231815" stroke="#231815" stroke-width="0.2" text-anchor="middle">11B</text>
<text transform="scale(0.76,1)" x="1073.54 1080.97 1088.4" y="670.1" font-family="'Liberation Serif','Noto Serif CJK SC',serif" font-size="12.9" fill="#231815" stroke="#231815" stroke-width="0.2" text-anchor="middle">11C</text>
<text transform="scale(0.722,1)" x="1160 1167.83 1175.65" y="670.1" font-family="'Liberation Serif','Noto Serif CJK SC',serif" font-size="12.9" fill="#231815" stroke="#231815" stroke-width="0.2" text-anchor="middle">12A</text>
<text transform="scale(0.76,1)" x="1130.47 1137.9 1145.34" y="670.1" font-family="'Liberation Serif','Noto Serif CJK SC',serif" font-size="12.9" fill="#231815" stroke="#231815" stroke-width="0.2" text-anchor="middle">12B</text>
<text transform="scale(0.76,1)" x="1158.94 1166.37 1173.81" y="670.1" font-family="'Liberation Serif','Noto Serif CJK SC',serif" font-size="12.9" fill="#231815" stroke="#231815" stroke-width="0.2" text-anchor="middle">12C</text>
</g>
<g id="slot-labels">
<text transform="translate(83.5,381) scale(0.94,1)" font-family="'Liberation Sans','Noto Sans CJK SC',sans-serif" font-size="16" font-weight="400" fill="#3e3a39">槽5</text>
<text transform="translate(83.5,516) scale(0.94,1)" font-family="'Liberation Sans','Noto Sans CJK SC',sans-serif" font-size="16" font-weight="400" fill="#3e3a39">槽3</text>
<text transform="translate(83.5,593.5) scale(0.94,1)" font-family="'Liberation Sans','Noto Sans CJK SC',sans-serif" font-size="16" font-weight="400" fill="#3e3a39">槽2</text>
<text transform="translate(83.5,671) scale(0.94,1)" font-family="'Liberation Sans','Noto Sans CJK SC',sans-serif" font-size="16" font-weight="400" fill="#3e3a39">槽1</text>
<path d="M113.1,353.7C112,354.3 111.8,355.6 111.8,357.2V370.4C111.8,372.1 111.5,373 110.6,373.6C111.5,374.2 111.8,375.1 111.8,376.8V390.2C111.8,391.8 112,393.1 113.1,393.7" fill="none" stroke="#231815" stroke-width="1.3"/>
</g>
<g id="notes-title">
<text x="96.7" y="765.4" font-family="'Liberation Serif','Noto Serif CJK SC',serif" font-size="15.6" font-weight="400" fill="#231815" stroke="#231815" stroke-width="0.15">配线说明</text>
</g>
<g id="note-voltage">
<rect x="106.35" y="804.2" width="21.8" height="21.9" fill="none" stroke="#231815" stroke-width="1.2"/>
<text transform="scale(0.595,1)" x="197.06" y="820.7" font-family="'Liberation Serif','Noto Serif CJK SC',serif" font-size="17.4" fill="#231815" stroke="#231815" stroke-width="0.2" text-anchor="middle">A</text>
<rect x="106.35" y="839.3" width="21.8" height="21.9" fill="none" stroke="#231815" stroke-width="1.2"/>
<text transform="scale(0.644,1)" x="182.07" y="855.8" font-family="'Liberation Serif','Noto Serif CJK SC',serif" font-size="17.4" fill="#231815" stroke="#231815" stroke-width="0.2" text-anchor="middle">B</text>
<line x1="128.4" y1="814.5" x2="183.1" y2="814.5" stroke="#231815" stroke-width="1.2"/>
<line x1="128.4" y1="850.1" x2="183.1" y2="850.1" stroke="#231815" stroke-width="1.2"/>
<rect x="183.1" y="803.9" width="94.7" height="57.3" fill="none" stroke="#231815" stroke-width="1.2"/>
<text transform="scale(0.92,1)" x="184.13" y="810" font-family="'Liberation Serif','Noto Serif CJK SC',serif" font-size="16.6" fill="#231815" stroke="#231815" stroke-width="0" text-anchor="middle">−</text>
<text transform="scale(0.92,1)" x="184.13" y="846.5" font-family="'Liberation Serif','Noto Serif CJK SC',serif" font-size="16.6" fill="#231815" stroke="#231815" stroke-width="0" text-anchor="middle">+</text>
<text x="189.7" y="838.3" font-family="'Liberation Serif','Noto Serif CJK SC',serif" font-size="15.4" font-weight="400" fill="#231815" stroke="#231815" stroke-width="0.12">电压</text>
<text transform="scale(0.7,1)" x="320.14 331.14" y="837.9" font-family="'Liberation Serif','Noto Serif CJK SC',serif" font-size="17.5" fill="#231815" stroke="#231815" stroke-width="0.2" text-anchor="middle">(V</text>
<text x="237.9" y="838.3" font-family="'Liberation Serif','Noto Serif CJK SC',serif" font-size="15.4" font-weight="400" fill="#231815" stroke="#231815" stroke-width="0.12">、</text>
<text transform="scale(0.68,1)" x="376.03 388.09 397.35" y="837.9" font-family="'Liberation Serif','Noto Serif CJK SC',serif" font-size="17.5" fill="#231815" stroke="#231815" stroke-width="0.2" text-anchor="middle">mV)</text>
</g>
<g id="note-current">
<rect x="316.65" y="804.3" width="21.8" height="21.9" fill="none" stroke="#231815" stroke-width="1.2"/>
<text transform="scale(0.595,1)" x="550.5" y="820.8" font-family="'Liberation Serif','Noto Serif CJK SC',serif" font-size="17.4" fill="#231815" stroke="#231815" stroke-width="0.2" text-anchor="middle">A</text>
<rect x="316.65" y="839.1" width="21.8" height="21.9" fill="none" stroke="#231815" stroke-width="1.2"/>
<text transform="scale(0.644,1)" x="508.62" y="855.6" font-family="'Liberation Serif','Noto Serif CJK SC',serif" font-size="17.4" fill="#231815" stroke="#231815" stroke-width="0.2" text-anchor="middle">B</text>
<rect x="316.65" y="873" width="21.8" height="21.9" fill="none" stroke="#231815" stroke-width="1.2"/>
<text transform="scale(0.644,1)" x="508.62" y="889.5" font-family="'Liberation Serif','Noto Serif CJK SC',serif" font-size="17.4" fill="#231815" stroke="#231815" stroke-width="0.2" text-anchor="middle">C</text>
<line x1="338.7" y1="814.1" x2="393.4" y2="814.1" stroke="#231815" stroke-width="1.2"/>
<path d="M338.7,883.5H351.5V850.2H393.4" fill="none" stroke="#231815" stroke-width="1.2"/>
<rect x="393.4" y="804" width="95" height="56.8" fill="none" stroke="#231815" stroke-width="1.2"/>
<text transform="scale(0.92,1)" x="414.46" y="810" font-family="'Liberation Serif','Noto Serif CJK SC',serif" font-size="16.6" fill="#231815" stroke="#231815" stroke-width="0" text-anchor="middle">−</text>
<text transform="scale(0.92,1)" x="414.46" y="846.1" font-family="'Liberation Serif','Noto Serif CJK SC',serif" font-size="16.6" fill="#231815" stroke="#231815" stroke-width="0" text-anchor="middle">+</text>
<text x="411.5" y="838.3" font-family="'Liberation Serif','Noto Serif CJK SC',serif" font-size="15.4" font-weight="400" fill="#231815" stroke="#231815" stroke-width="0.12">电流</text>
<text transform="scale(0.68,1)" x="657.94 666.03 679.41 689.41" y="837.9" font-family="'Liberation Serif','Noto Serif CJK SC',serif" font-size="17.5" fill="#231815" stroke="#231815" stroke-width="0.2" text-anchor="middle">(mA)</text>
</g>
<g id="note-thermocouple">
<rect x="525.55" y="804.3" width="21.8" height="21.9" fill="none" stroke="#231815" stroke-width="1.2"/>
<text transform="scale(0.595,1)" x="901.6" y="820.8" font-family="'Liberation Serif','Noto Serif CJK SC',serif" font-size="17.4" fill="#231815" stroke="#231815" stroke-width="0.2" text-anchor="middle">A</text>
<rect x="525.55" y="839.1" width="21.8" height="21.9" fill="none" stroke="#231815" stroke-width="1.2"/>
<text transform="scale(0.644,1)" x="833" y="855.6" font-family="'Liberation Serif','Noto Serif CJK SC',serif" font-size="17.4" fill="#231815" stroke="#231815" stroke-width="0.2" text-anchor="middle">B</text>
<path d="M547.6,814.1H602.3L618.7,832.3" fill="none" stroke="#231815" stroke-width="1.2"/>
<path d="M547.6,850H602.3" fill="none" stroke="#231815" stroke-width="1.2"/>
<path d="M601.6,850.4L618.7,832.3" fill="none" stroke="#0c0706" stroke-width="3.0"/>
<text transform="scale(0.92,1)" x="643.91" y="810" font-family="'Liberation Serif','Noto Serif CJK SC',serif" font-size="16.6" fill="#231815" stroke="#231815" stroke-width="0" text-anchor="middle">−</text>
<text transform="scale(0.92,1)" x="643.91" y="846.1" font-family="'Liberation Serif','Noto Serif CJK SC',serif" font-size="16.6" fill="#231815" stroke="#231815" stroke-width="0" text-anchor="middle">+</text>
<text x="623.3" y="838.6" font-family="'Liberation Serif','Noto Serif CJK SC',serif" font-size="15.4" font-weight="400" fill="#231815" stroke="#231815" stroke-width="0.12">热电偶</text>
<text transform="scale(0.621,1)" x="1085.43 1097.83" y="838.6" font-family="'Liberation Serif','Noto Serif CJK SC',serif" font-size="17.5" fill="#231815" stroke="#231815" stroke-width="0.2" text-anchor="middle">mV</text>
</g>
<g id="note-rtd">
<rect x="740.35" y="797.5" width="21.8" height="21.9" fill="none" stroke="#231815" stroke-width="1.2"/>
<text transform="scale(0.595,1)" x="1262.61" y="814" font-family="'Liberation Serif','Noto Serif CJK SC',serif" font-size="17.4" fill="#231815" stroke="#231815" stroke-width="0.2" text-anchor="middle">A</text>
<rect x="740.35" y="832.2" width="21.8" height="21.9" fill="none" stroke="#231815" stroke-width="1.2"/>
<text transform="scale(0.644,1)" x="1166.54" y="848.7" font-family="'Liberation Serif','Noto Serif CJK SC',serif" font-size="17.4" fill="#231815" stroke="#231815" stroke-width="0.2" text-anchor="middle">B</text>
<rect x="740.35" y="866.7" width="21.8" height="21.9" fill="none" stroke="#231815" stroke-width="1.2"/>
<text transform="scale(0.644,1)" x="1166.54" y="883.2" font-family="'Liberation Serif','Noto Serif CJK SC',serif" font-size="17.4" fill="#231815" stroke="#231815" stroke-width="0.2" text-anchor="middle">C</text>
<path d="M762.2,807.3H817.4V814.5" fill="none" stroke="#231815" stroke-width="1.2"/>
<rect x="813.4" y="814.5" width="8.1" height="20.8" fill="none" stroke="#231815" stroke-width="1.2"/>
<path d="M817.4,835.3V877.2H762.2" fill="none" stroke="#231815" stroke-width="1.2"/>
<line x1="762.2" y1="843" x2="817.4" y2="843" stroke="#231815" stroke-width="1.2"/>
<text x="830.4" y="847" font-family="'Liberation Serif','Noto Serif CJK SC',serif" font-size="15.4" font-weight="400" fill="#231815" stroke="#231815" stroke-width="0.12">热电阻</text>
</g>
<g id="note-frequency">
<rect x="106.55" y="952.9" width="21.8" height="21.9" fill="none" stroke="#231815" stroke-width="1.2"/>
<text transform="scale(0.734,1)" x="154.97 165.05" y="969.4" font-family="'Liberation Serif','Noto Serif CJK SC',serif" font-size="17.4" fill="#231815" stroke="#231815" stroke-width="0.2" text-anchor="middle">F−</text>
<rect x="106.55" y="984.7" width="21.8" height="21.9" fill="none" stroke="#231815" stroke-width="1.2"/>
<text transform="scale(0.734,1)" x="154.97 165.05" y="1001.2" font-family="'Liberation Serif','Noto Serif CJK SC',serif" font-size="17.4" fill="#231815" stroke="#231815" stroke-width="0.2" text-anchor="middle">F+</text>
<rect x="106.55" y="1015.5" width="21.8" height="21.9" fill="none" stroke="#231815" stroke-width="1.2"/>
<text transform="scale(0.601,1)" x="189.27 201.58" y="1032" font-family="'Liberation Serif','Noto Serif CJK SC',serif" font-size="17.4" fill="#231815" stroke="#231815" stroke-width="0.2" text-anchor="middle">V+</text>
<line x1="128.6" y1="963.2" x2="193.1" y2="963.2" stroke="#231815" stroke-width="1.2"/>
<line x1="128.6" y1="995.3" x2="193.1" y2="995.3" stroke="#231815" stroke-width="1.2"/>
<line x1="128.6" y1="1026.3" x2="193.1" y2="1026.3" stroke="#231815" stroke-width="1.2"/>
<rect x="193.1" y="953.1" width="54.6" height="84.6" fill="none" stroke="#231815" stroke-width="1.2"/>
<text transform="scale(0.92,1)" x="197.28" y="957.8" font-family="'Liberation Serif','Noto Serif CJK SC',serif" font-size="16.6" fill="#231815" stroke="#231815" stroke-width="0" text-anchor="middle">−</text>
<text transform="scale(0.92,1)" x="197.28" y="991.2" font-family="'Liberation Serif','Noto Serif CJK SC',serif" font-size="16.6" fill="#231815" stroke="#231815" stroke-width="0" text-anchor="middle">+</text>
<text transform="scale(0.72,1)" x="188.06 195.83 203.61 211.39 221.67 227.92 235.69 242.5 253.61 262.22" y="1023.9" font-family="'Liberation Serif','Noto Serif CJK SC',serif" font-size="13.2" fill="#231815" stroke="#231815" stroke-width="0.2" text-anchor="middle">DC12(24)V+</text>
<text x="200.9" y="1000.2" font-family="'Liberation Serif','Noto Serif CJK SC',serif" font-size="15.4" font-weight="400" fill="#231815" stroke="#231815" stroke-width="0.12">频率</text>
<text transform="scale(0.74,1)" x="319.12" y="1000" font-family="'Liberation Serif','Noto Serif CJK SC',serif" font-size="17.5" fill="#231815" stroke="#231815" stroke-width="0.2" text-anchor="middle">F</text>
</g>
<g id="note-relay">
<rect x="278.65" y="963.7" width="21.8" height="21.9" fill="none" stroke="#231815" stroke-width="1.2"/>
<text transform="scale(0.644,1)" x="449.61" y="980.2" font-family="'Liberation Serif','Noto Serif CJK SC',serif" font-size="17.4" fill="#231815" stroke="#231815" stroke-width="0.2" text-anchor="middle">R</text>
<rect x="278.65" y="998.5" width="21.8" height="21.9" fill="none" stroke="#231815" stroke-width="1.2"/>
<text transform="scale(0.644,1)" x="449.61" y="1015" font-family="'Liberation Serif','Noto Serif CJK SC',serif" font-size="17.4" fill="#231815" stroke="#231815" stroke-width="0.2" text-anchor="middle">R</text>
<path d="M300.7,973.5H328.2V983.2" fill="none" stroke="#231815" stroke-width="1.2"/>
<path d="M300.7,1009.4H328.2V1000.8" fill="none" stroke="#231815" stroke-width="1.2"/>
<circle cx="328.2" cy="985.2" r="2.1" fill="#f8f8f8" stroke="#231815" stroke-width="1.15"/>
<circle cx="328.2" cy="998.8" r="2.1" fill="#f8f8f8" stroke="#231815" stroke-width="1.15"/>
<line x1="329.2" y1="986.9" x2="333.7" y2="995.8" stroke="#231815" stroke-width="1.2"/>
<text x="336.6" y="999.6" font-family="'Liberation Serif','Noto Serif CJK SC',serif" font-size="15.5" font-weight="400" fill="#231815" stroke="#231815" stroke-width="0.12">继电器输出</text>
</g>
<g id="note-analog-output">
<rect x="435.55" y="966.6" width="21.8" height="21.9" fill="none" stroke="#231815" stroke-width="1.2"/>
<text transform="scale(0.8,1)" x="553.44 562.69" y="983.1" font-family="'Liberation Serif','Noto Serif CJK SC',serif" font-size="17.4" fill="#231815" stroke="#231815" stroke-width="0.2" text-anchor="middle">I+</text>
<rect x="435.55" y="1001.5" width="21.8" height="21.9" fill="none" stroke="#231815" stroke-width="1.2"/>
<text transform="scale(0.8,1)" x="553.44 562.69" y="1018" font-family="'Liberation Serif','Noto Serif CJK SC',serif" font-size="17.4" fill="#231815" stroke="#231815" stroke-width="0.2" text-anchor="middle">I−</text>
<line x1="457.6" y1="977.1" x2="489.2" y2="977.1" stroke="#231815" stroke-width="1.2"/>
<line x1="457.6" y1="1012.7" x2="489.2" y2="1012.7" stroke="#231815" stroke-width="1.2"/>
<circle cx="491.2" cy="977.1" r="2.1" fill="#f8f8f8" stroke="#231815" stroke-width="1.15"/>
<circle cx="491.2" cy="1012.7" r="2.1" fill="#f8f8f8" stroke="#231815" stroke-width="1.15"/>
<text transform="scale(0.92,1)" x="518.7" y="974" font-family="'Liberation Serif','Noto Serif CJK SC',serif" font-size="16.6" fill="#231815" stroke="#231815" stroke-width="0" text-anchor="middle">+</text>
<text transform="scale(0.92,1)" x="518.7" y="1011.4" font-family="'Liberation Serif','Noto Serif CJK SC',serif" font-size="16.6" fill="#231815" stroke="#231815" stroke-width="0" text-anchor="middle">−</text>
<text x="485.8" y="1000.8" font-family="'Liberation Serif','Noto Serif CJK SC',serif" font-size="15.5" font-weight="400" fill="#231815" stroke="#231815" stroke-width="0.12">模拟量变送输出</text>
</g>
<g id="note-two-wire-transmitter">
<rect x="608.15" y="1011.4" width="21.8" height="21.9" fill="none" stroke="#231815" stroke-width="1.2"/>
<text transform="scale(0.734,1)" x="838.35 848.43" y="1027.9" font-family="'Liberation Serif','Noto Serif CJK SC',serif" font-size="17.4" fill="#231815" stroke="#231815" stroke-width="0.2" text-anchor="middle">P+</text>
<rect x="652.35" y="1011.4" width="21.8" height="21.9" fill="none" stroke="#231815" stroke-width="1.2"/>
<text transform="scale(0.734,1)" x="898.57 908.65" y="1027.9" font-family="'Liberation Serif','Noto Serif CJK SC',serif" font-size="17.4" fill="#231815" stroke="#231815" stroke-width="0.2" text-anchor="middle">P−</text>
<rect x="696.65" y="943.2" width="21.8" height="21.9" fill="none" stroke="#231815" stroke-width="1.2"/>
<text transform="scale(0.595,1)" x="1189.16" y="959.7" font-family="'Liberation Serif','Noto Serif CJK SC',serif" font-size="17.4" fill="#231815" stroke="#231815" stroke-width="0.2" text-anchor="middle">A</text>
<rect x="696.65" y="978" width="21.8" height="21.9" fill="none" stroke="#231815" stroke-width="1.2"/>
<text transform="scale(0.644,1)" x="1098.68" y="994.5" font-family="'Liberation Serif','Noto Serif CJK SC',serif" font-size="17.4" fill="#231815" stroke="#231815" stroke-width="0.2" text-anchor="middle">B</text>
<rect x="696.65" y="1011.4" width="21.8" height="21.9" fill="none" stroke="#231815" stroke-width="1.2"/>
<text transform="scale(0.644,1)" x="1098.68" y="1027.9" font-family="'Liberation Serif','Noto Serif CJK SC',serif" font-size="17.4" fill="#231815" stroke="#231815" stroke-width="0.2" text-anchor="middle">C</text>
<path d="M663.2,1011.4V954.0H696.6" fill="none" stroke="#231815" stroke-width="1.2"/>
<path d="M718.5,1022.9H732.8V953.1H773.2" fill="none" stroke="#231815" stroke-width="1.2"/>
<path d="M619,1033.3V1049.2H746.6V988.8H773.2" fill="none" stroke="#231815" stroke-width="1.2"/>
<rect x="773.2" y="942.9" width="104.3" height="57" fill="none" stroke="#231815" stroke-width="1.2"/>
<text transform="scale(0.92,1)" x="827.5" y="948.4" font-family="'Liberation Serif','Noto Serif CJK SC',serif" font-size="16.6" fill="#231815" stroke="#231815" stroke-width="0" text-anchor="middle">−</text>
<text transform="scale(0.92,1)" x="827.5" y="985" font-family="'Liberation Serif','Noto Serif CJK SC',serif" font-size="16.6" fill="#231815" stroke="#231815" stroke-width="0" text-anchor="middle">+</text>
<text x="778.5" y="976.8" font-family="'Liberation Serif','Noto Serif CJK SC',serif" font-size="15.6" font-weight="400" fill="#231815" stroke="#231815" stroke-width="0.12">两线制变送器</text>
</g>
</svg>
</main>
</div>
</body>
</html>
